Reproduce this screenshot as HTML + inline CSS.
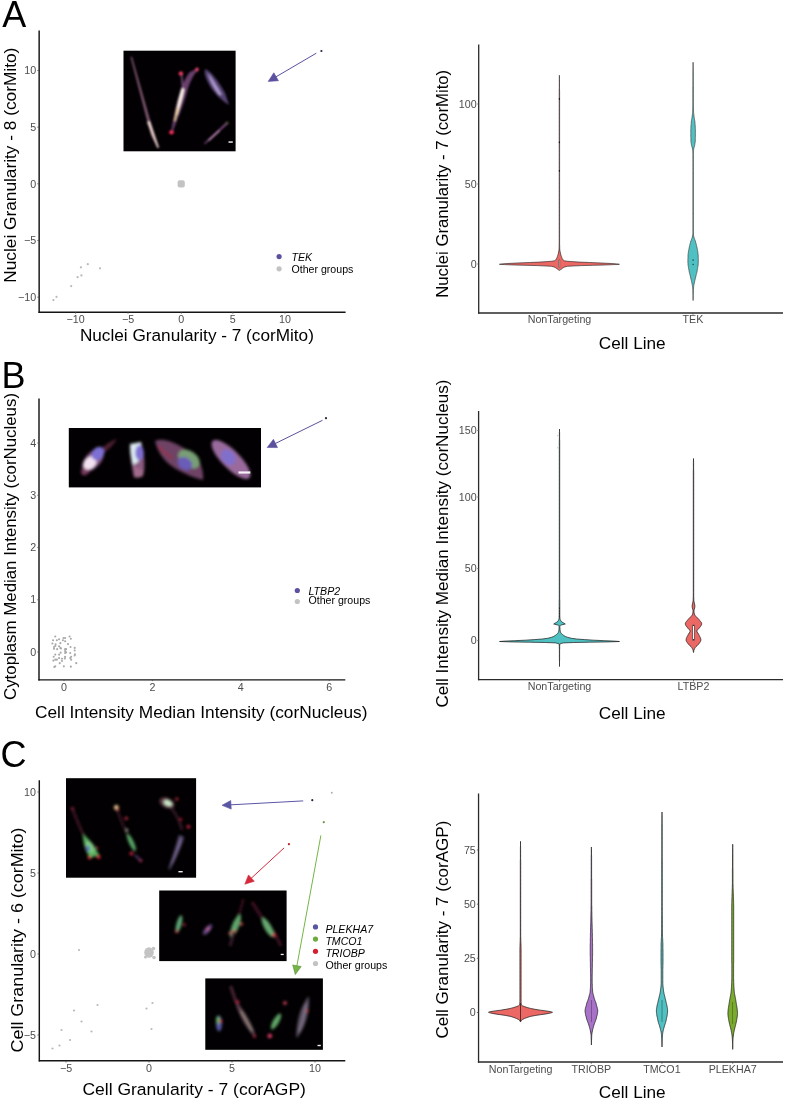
<!DOCTYPE html>
<html><head><meta charset="utf-8"><style>
html,body{margin:0;padding:0;background:#fff;}
body{width:786px;height:1101px;overflow:hidden;}
svg{display:block;font-family:"Liberation Sans", sans-serif;will-change:transform;}
</style></head><body>
<svg width="786" height="1101" viewBox="0 0 786 1101">
<defs>
<filter id="b1" x="-50%" y="-50%" width="200%" height="200%"><feGaussianBlur stdDeviation="0.9"/></filter>
<filter id="b2" x="-50%" y="-50%" width="200%" height="200%"><feGaussianBlur stdDeviation="2"/></filter>
<filter id="b15" x="-50%" y="-50%" width="200%" height="200%"><feGaussianBlur stdDeviation="1.4"/></filter>
<filter id="b05" x="-50%" y="-50%" width="200%" height="200%"><feGaussianBlur stdDeviation="0.6"/></filter>
</defs>
<rect width="786" height="1101" fill="#fff"/>
<text x="2.2" y="27" font-size="36" text-anchor="start" fill="#000" style="">A</text>
<line x1="39.15" y1="30.5" x2="39.15" y2="313.0" stroke="#151515" stroke-width="1.45"/>
<line x1="38.45" y1="312.3" x2="345.6" y2="312.3" stroke="#151515" stroke-width="1.45"/>
<text x="36.2" y="74.20000000000002" font-size="10.7" text-anchor="end" fill="#4d4d4d" style="">10</text>
<line x1="37.3" y1="70.50000000000001" x2="39" y2="70.50000000000001" stroke="#4d4d4d" stroke-width="0.8"/>
<text x="36.2" y="130.85" font-size="10.7" text-anchor="end" fill="#4d4d4d" style="">5</text>
<line x1="37.3" y1="127.15" x2="39" y2="127.15" stroke="#4d4d4d" stroke-width="0.8"/>
<text x="36.2" y="187.5" font-size="10.7" text-anchor="end" fill="#4d4d4d" style="">0</text>
<line x1="37.3" y1="183.8" x2="39" y2="183.8" stroke="#4d4d4d" stroke-width="0.8"/>
<text x="36.2" y="244.15" font-size="10.7" text-anchor="end" fill="#4d4d4d" style="">−5</text>
<line x1="37.3" y1="240.45000000000002" x2="39" y2="240.45000000000002" stroke="#4d4d4d" stroke-width="0.8"/>
<text x="36.2" y="300.8" font-size="10.7" text-anchor="end" fill="#4d4d4d" style="">−10</text>
<line x1="37.3" y1="297.1" x2="39" y2="297.1" stroke="#4d4d4d" stroke-width="0.8"/>
<text x="75.6" y="322.8" font-size="10.7" text-anchor="middle" fill="#4d4d4d" style="">−10</text>
<line x1="75.6" y1="312" x2="75.6" y2="313.7" stroke="#4d4d4d" stroke-width="0.8"/>
<text x="128.0" y="322.8" font-size="10.7" text-anchor="middle" fill="#4d4d4d" style="">−5</text>
<line x1="128.0" y1="312" x2="128.0" y2="313.7" stroke="#4d4d4d" stroke-width="0.8"/>
<text x="181.3" y="322.8" font-size="10.7" text-anchor="middle" fill="#4d4d4d" style="">0</text>
<line x1="181.3" y1="312" x2="181.3" y2="313.7" stroke="#4d4d4d" stroke-width="0.8"/>
<text x="232.8" y="322.8" font-size="10.7" text-anchor="middle" fill="#4d4d4d" style="">5</text>
<line x1="232.8" y1="312" x2="232.8" y2="313.7" stroke="#4d4d4d" stroke-width="0.8"/>
<text x="285.0" y="322.8" font-size="10.7" text-anchor="middle" fill="#4d4d4d" style="">10</text>
<line x1="285.0" y1="312" x2="285.0" y2="313.7" stroke="#4d4d4d" stroke-width="0.8"/>
<text x="196.9" y="340.5" font-size="17.2" text-anchor="middle" fill="#000" style="" textLength="234" lengthAdjust="spacingAndGlyphs">Nuclei Granularity - 7 (corMito)</text>
<text x="16.5" y="165.2" font-size="17.2" text-anchor="middle" fill="#000" style="" transform="rotate(-90 16.5 165.2)" textLength="235" lengthAdjust="spacingAndGlyphs">Nuclei Granularity - 8 (corMito)</text>
<circle cx="53.4" cy="300.1" r="1.1" fill="#b8b8b8"/>
<circle cx="56.5" cy="296.8" r="1.1" fill="#b8b8b8"/>
<circle cx="71.2" cy="286.1" r="1.1" fill="#b8b8b8"/>
<circle cx="77.6" cy="277.2" r="1.1" fill="#b8b8b8"/>
<circle cx="81.4" cy="275.4" r="1.1" fill="#b8b8b8"/>
<circle cx="80.9" cy="267.3" r="1.1" fill="#b8b8b8"/>
<circle cx="87.8" cy="264.2" r="1.1" fill="#b8b8b8"/>
<circle cx="100" cy="268.3" r="1.1" fill="#b8b8b8"/>
<rect x="177.6" y="180.2" width="7.2" height="7.2" rx="2" fill="#c3c3c3"/>
<rect x="123.5" y="50.7" width="112.1" height="100.6" fill="#020002"/>
<g filter="url(#b1)">
<path d="M130.5,56.5 L132,57 L155,138 L158.5,147.8 L157.5,148 L151,135 Z" fill="#9a6a88" opacity="0.9"/>
<path d="M147,122 L150,121 L159,147.5 L157.5,148 Z" fill="#f4dcd8"/>
<path d="M171,133 C173,118 176,104 180,92 C183,84 186,76 190,72 L197.5,68.5 L198,70 C193,75 189,84 187,92 C184,104 178,118 172,133 Z" fill="#7a4a7e" opacity="0.85"/>
<path d="M180.5,73 L182,73 C183,80 184,86 184,90 L182,90 C181.5,84 181,79 180.5,73 Z" fill="#8a5a90" opacity="0.8"/>
<path d="M175.5,114 C177,105 179,97 181.5,88 L184.5,89 C183,97 180,106 177.5,115 Z" fill="#fff4ec"/>
<path d="M174,121 C175,116 176,111 177,107 L178.5,108 C177.5,113 176.5,117 175.5,121 Z" fill="#f4d890"/>
<ellipse cx="180.9" cy="73.5" rx="2.2" ry="1.9" fill="#ff3f6a"/>
<ellipse cx="197" cy="69.6" rx="1.6" ry="2.0" fill="#ff4a78"/>
<ellipse cx="171.5" cy="132.3" rx="2.4" ry="2.1" fill="#ff3060"/>
<path d="M205,69 C211,71 219,82 225,93 L229,105 C222,101 214,93 210,86 C206,79 204,74 205,69 Z" fill="#5e4a80" opacity="0.9"/>
<path d="M208,73 C212,78 217,86 222,95 L219,95 C214,88 210,82 208,73 Z" fill="#b8a4d8" opacity="0.9"/>
<path d="M204,143.5 L227,122 L228,123.5 L205,144 Z" fill="#9a5a9c"/>
<path d="M208,140 L219,130 L220,131 L209,141 Z" fill="#d8a0d0"/>
<circle cx="227" cy="123" r="1.6" fill="#5a5a44"/>
</g>
<rect x="228.5" y="141.3" width="4.3" height="1.5" fill="#e8e8e8"/>
<line x1="316.3" y1="53.2" x2="275.27390209413784" y2="77.25272268077573" stroke="#5a519f" stroke-width="1.0"/>
<polygon points="268.20,81.40 273.81,72.78 278.46,80.72" fill="#5a519f" stroke="#5a519f" stroke-width="0.6" stroke-linejoin="round"/>
<circle cx="321.4" cy="51" r="1.1" fill="#2a2440"/>
<circle cx="279.1" cy="256.6" r="2.6" fill="#5a519f"/>
<circle cx="279.1" cy="268.8" r="2.6" fill="#c3c3c3"/>
<text x="291.5" y="261.1" font-size="10.6" text-anchor="start" fill="#000" style="font-style:italic;">TEK</text>
<text x="291.5" y="273.3" font-size="10.6" text-anchor="start" fill="#000" style="">Other groups</text>
<line x1="478.7" y1="44.5" x2="478.7" y2="313.65" stroke="#2a2a2a" stroke-width="1.3"/>
<line x1="478.05" y1="313.0" x2="783.0" y2="313.0" stroke="#2a2a2a" stroke-width="1.3"/>
<text x="476.6" y="267.7" font-size="10.7" text-anchor="end" fill="#4d4d4d" style="">0</text>
<line x1="477.3" y1="264.0" x2="479" y2="264.0" stroke="#4d4d4d" stroke-width="0.8"/>
<text x="476.6" y="187.7" font-size="10.7" text-anchor="end" fill="#4d4d4d" style="">50</text>
<line x1="477.3" y1="184.0" x2="479" y2="184.0" stroke="#4d4d4d" stroke-width="0.8"/>
<text x="476.6" y="107.7" font-size="10.7" text-anchor="end" fill="#4d4d4d" style="">100</text>
<line x1="477.3" y1="104.0" x2="479" y2="104.0" stroke="#4d4d4d" stroke-width="0.8"/>
<text x="559.5" y="323.2" font-size="10.7" text-anchor="middle" fill="#4d4d4d" style="">NonTargeting</text>
<line x1="559.5" y1="313" x2="559.5" y2="314.7" stroke="#4d4d4d" stroke-width="0.8"/>
<text x="693" y="323.2" font-size="10.7" text-anchor="middle" fill="#4d4d4d" style="">TEK</text>
<line x1="693" y1="313" x2="693" y2="314.7" stroke="#4d4d4d" stroke-width="0.8"/>
<text x="632.2" y="348.5" font-size="17.2" text-anchor="middle" fill="#000" style="">Cell Line</text>
<text x="448.3" y="183.8" font-size="17.2" text-anchor="middle" fill="#000" style="" transform="rotate(-90 448.3 183.8)" textLength="228" lengthAdjust="spacingAndGlyphs">Nuclei Granularity - 7 (corMito)</text>
<path d="M559.4,75.3 559.4,76.1 559.4,76.9 559.4,77.8 559.4,78.6 559.4,79.4 559.5,80.2 559.5,81.0 559.5,81.8 559.5,82.6 559.5,83.5 559.5,84.3 559.5,85.1 559.5,85.9 559.5,86.7 559.5,87.5 559.5,88.4 559.5,89.2 559.5,90.0 559.6,90.8 559.6,91.6 559.6,92.4 559.6,93.2 559.6,94.0 559.6,94.8 559.6,95.6 559.6,96.4 559.6,97.2 559.6,98.0 559.6,98.8 559.6,99.6 559.6,100.4 559.6,101.2 559.6,102.0 559.6,102.8 559.6,103.6 559.6,104.4 559.6,105.2 559.6,106.0 559.6,106.8 559.6,107.6 559.6,108.4 559.6,109.3 559.6,110.1 559.6,110.9 559.6,111.7 559.6,112.5 559.6,113.3 559.6,114.1 559.6,114.9 559.6,115.7 559.6,116.5 559.6,117.3 559.6,118.1 559.6,118.9 559.6,119.7 559.6,120.5 559.6,121.3 559.6,122.1 559.6,122.9 559.6,123.7 559.6,124.5 559.6,125.3 559.6,126.1 559.6,126.9 559.6,127.7 559.6,128.5 559.6,129.3 559.6,130.1 559.6,130.9 559.6,131.7 559.6,132.5 559.6,133.3 559.6,134.1 559.6,134.9 559.6,135.7 559.6,136.5 559.6,137.3 559.6,138.1 559.6,138.9 559.6,139.7 559.6,140.5 559.6,141.3 559.6,142.1 559.6,142.9 559.6,143.7 559.6,144.5 559.6,145.3 559.6,146.1 559.6,147.0 559.6,147.8 559.6,148.6 559.6,149.4 559.6,150.2 559.6,151.0 559.6,151.8 559.6,152.6 559.6,153.4 559.6,154.2 559.6,155.0 559.6,155.8 559.6,156.6 559.6,157.4 559.6,158.2 559.6,159.0 559.6,159.8 559.6,160.6 559.6,161.4 559.6,162.2 559.6,163.0 559.6,163.8 559.6,164.6 559.6,165.4 559.6,166.2 559.6,167.0 559.6,167.8 559.6,168.6 559.6,169.4 559.6,170.2 559.6,171.0 559.6,171.8 559.6,172.6 559.6,173.4 559.6,174.2 559.6,175.0 559.6,175.8 559.6,176.6 559.6,177.4 559.6,178.2 559.6,179.0 559.6,179.8 559.6,180.6 559.6,181.4 559.6,182.2 559.6,183.0 559.6,183.9 559.6,184.7 559.6,185.5 559.6,186.3 559.6,187.1 559.6,187.9 559.6,188.7 559.6,189.5 559.6,190.3 559.6,191.1 559.6,191.9 559.6,192.7 559.6,193.5 559.6,194.3 559.6,195.1 559.6,195.9 559.6,196.7 559.6,197.5 559.6,198.3 559.6,199.1 559.6,199.9 559.6,200.7 559.6,201.5 559.6,202.3 559.6,203.1 559.6,203.9 559.6,204.7 559.6,205.5 559.6,206.3 559.6,207.1 559.6,207.9 559.6,208.7 559.6,209.5 559.6,210.3 559.6,211.1 559.6,211.9 559.6,212.7 559.6,213.5 559.6,214.3 559.6,215.1 559.6,215.9 559.6,216.7 559.6,217.5 559.6,218.3 559.6,219.1 559.6,219.9 559.6,220.7 559.6,221.6 559.6,222.4 559.6,223.2 559.6,224.0 559.6,224.8 559.6,225.6 559.6,226.4 559.6,227.2 559.6,228.0 559.6,228.8 559.6,229.6 559.6,230.4 559.6,231.2 559.6,232.0 559.6,232.8 559.6,233.6 559.6,234.4 559.6,235.2 559.6,236.0 559.6,236.8 559.6,237.6 559.6,238.4 559.6,239.2 559.6,240.0 559.6,240.8 559.6,241.6 559.6,242.5 559.6,243.3 559.6,244.1 559.6,244.9 559.7,245.7 559.7,246.5 559.7,247.4 559.7,248.2 559.8,249.0 559.8,250.0 560.0,251.0 560.2,252.0 560.4,253.0 560.6,254.0 560.9,255.0 561.2,255.8 561.5,256.7 561.8,257.5 562.2,258.5 562.8,259.5 563.3,260.1 564.4,260.8 566.9,261.2 571.4,261.6 579.4,262.1 589.4,262.5 601.3,263.0 611.4,263.5 616.8,263.9 619.4,264.3 614.3,264.6 604.4,265.0 592.8,265.3 581.4,265.6 572.6,266.0 567.4,266.3 564.9,266.9 563.6,267.5 562.5,268.2 561.6,269.0 560.6,269.6 559.7,270.3 559.5,270.5 559.4,270.6 559.3,270.5 559.1,270.3 558.2,269.6 557.2,269.0 556.3,268.2 555.2,267.5 553.9,266.9 551.4,266.3 546.2,266.0 537.4,265.6 526.0,265.3 514.4,265.0 504.5,264.6 499.4,264.3 502.0,263.9 507.4,263.5 517.5,263.0 529.4,262.5 539.4,262.1 547.4,261.6 551.9,261.2 554.4,260.8 555.5,260.1 556.0,259.5 556.6,258.5 557.0,257.5 557.3,256.7 557.6,255.8 557.9,255.0 558.2,254.0 558.4,253.0 558.6,252.0 558.8,251.0 559.0,250.0 559.0,249.0 559.1,248.2 559.1,247.4 559.1,246.5 559.1,245.7 559.2,244.9 559.2,244.1 559.2,243.3 559.2,242.5 559.2,241.6 559.2,240.8 559.2,240.0 559.2,239.2 559.2,238.4 559.2,237.6 559.2,236.8 559.2,236.0 559.2,235.2 559.2,234.4 559.2,233.6 559.2,232.8 559.2,232.0 559.2,231.2 559.2,230.4 559.2,229.6 559.2,228.8 559.2,228.0 559.2,227.2 559.2,226.4 559.2,225.6 559.2,224.8 559.2,224.0 559.2,223.2 559.2,222.4 559.2,221.6 559.2,220.7 559.2,219.9 559.2,219.1 559.2,218.3 559.2,217.5 559.2,216.7 559.2,215.9 559.2,215.1 559.2,214.3 559.2,213.5 559.2,212.7 559.2,211.9 559.2,211.1 559.2,210.3 559.2,209.5 559.2,208.7 559.2,207.9 559.2,207.1 559.2,206.3 559.2,205.5 559.2,204.7 559.2,203.9 559.2,203.1 559.2,202.3 559.2,201.5 559.2,200.7 559.2,199.9 559.2,199.1 559.2,198.3 559.2,197.5 559.2,196.7 559.2,195.9 559.2,195.1 559.2,194.3 559.2,193.5 559.2,192.7 559.2,191.9 559.2,191.1 559.2,190.3 559.2,189.5 559.2,188.7 559.2,187.9 559.2,187.1 559.2,186.3 559.2,185.5 559.2,184.7 559.2,183.9 559.2,183.0 559.2,182.2 559.2,181.4 559.2,180.6 559.2,179.8 559.2,179.0 559.2,178.2 559.2,177.4 559.2,176.6 559.2,175.8 559.2,175.0 559.2,174.2 559.2,173.4 559.2,172.6 559.2,171.8 559.2,171.0 559.2,170.2 559.2,169.4 559.2,168.6 559.2,167.8 559.2,167.0 559.2,166.2 559.2,165.4 559.2,164.6 559.2,163.8 559.2,163.0 559.2,162.2 559.2,161.4 559.2,160.6 559.2,159.8 559.2,159.0 559.2,158.2 559.2,157.4 559.2,156.6 559.2,155.8 559.2,155.0 559.2,154.2 559.2,153.4 559.2,152.6 559.2,151.8 559.2,151.0 559.2,150.2 559.2,149.4 559.2,148.6 559.2,147.8 559.2,147.0 559.2,146.1 559.2,145.3 559.2,144.5 559.2,143.7 559.2,142.9 559.2,142.1 559.2,141.3 559.2,140.5 559.2,139.7 559.2,138.9 559.2,138.1 559.2,137.3 559.2,136.5 559.2,135.7 559.2,134.9 559.2,134.1 559.2,133.3 559.2,132.5 559.2,131.7 559.2,130.9 559.2,130.1 559.2,129.3 559.2,128.5 559.2,127.7 559.2,126.9 559.2,126.1 559.2,125.3 559.2,124.5 559.2,123.7 559.2,122.9 559.2,122.1 559.2,121.3 559.2,120.5 559.2,119.7 559.2,118.9 559.2,118.1 559.2,117.3 559.2,116.5 559.2,115.7 559.2,114.9 559.2,114.1 559.2,113.3 559.2,112.5 559.2,111.7 559.2,110.9 559.2,110.1 559.2,109.3 559.2,108.4 559.2,107.6 559.2,106.8 559.2,106.0 559.2,105.2 559.2,104.4 559.2,103.6 559.2,102.8 559.2,102.0 559.2,101.2 559.2,100.4 559.2,99.6 559.2,98.8 559.2,98.0 559.2,97.2 559.2,96.4 559.2,95.6 559.2,94.8 559.2,94.0 559.2,93.2 559.2,92.4 559.2,91.6 559.2,90.8 559.2,90.0 559.3,89.2 559.3,88.4 559.3,87.5 559.3,86.7 559.3,85.9 559.3,85.1 559.3,84.3 559.3,83.5 559.3,82.6 559.3,81.8 559.3,81.0 559.3,80.2 559.4,79.4 559.4,78.6 559.4,77.8 559.4,76.9 559.4,76.1 Z" fill="#ec6865" stroke="#252525" stroke-width="0.65" stroke-linejoin="round"/>
<rect x="558.95" y="259.9" width="0.9" height="7.6" fill="#f4f4f4" stroke="#333" stroke-width="0.45"/>
<rect x="558.85" y="98.2" width="1.1" height="1.6" fill="#111"/>
<rect x="558.85" y="141.5" width="1.1" height="1.6" fill="#111"/>
<rect x="558.85" y="170" width="1.1" height="1.6" fill="#111"/>
<path d="M693.1,62.3 693.1,63.1 693.1,64.0 693.1,64.8 693.2,65.7 693.2,66.5 693.2,67.4 693.2,68.2 693.2,69.1 693.2,69.9 693.3,70.8 693.3,71.6 693.3,72.5 693.3,73.3 693.3,74.2 693.3,75.0 693.3,75.8 693.3,76.6 693.3,77.4 693.3,78.2 693.3,79.0 693.3,79.8 693.3,80.6 693.3,81.5 693.3,82.3 693.3,83.1 693.3,83.9 693.3,84.7 693.3,85.5 693.3,86.3 693.4,87.1 693.4,87.9 693.4,88.7 693.4,89.5 693.4,90.3 693.4,91.1 693.4,91.9 693.4,92.7 693.4,93.5 693.4,94.4 693.4,95.2 693.4,96.0 693.4,96.8 693.4,97.6 693.4,98.4 693.4,99.2 693.4,100.0 693.4,100.8 693.4,101.7 693.4,102.5 693.4,103.3 693.4,104.2 693.4,105.0 693.4,105.8 693.5,106.7 693.5,107.5 693.5,108.3 693.5,109.2 693.5,110.0 693.5,110.9 693.6,111.7 693.6,112.6 693.7,113.4 693.8,114.3 693.9,115.1 694.0,116.0 694.1,116.9 694.2,117.7 694.4,118.6 694.5,119.4 694.7,120.3 694.8,121.1 694.9,122.0 695.0,122.8 695.0,123.6 695.1,124.5 695.2,125.3 695.2,126.1 695.3,126.9 695.3,127.7 695.3,128.5 695.4,129.4 695.4,130.2 695.4,131.0 695.4,131.8 695.4,132.6 695.4,133.5 695.4,134.3 695.4,135.1 695.4,135.9 695.4,136.7 695.3,137.5 695.3,138.4 695.3,139.2 695.3,140.0 695.3,140.9 695.2,141.8 695.1,142.8 694.9,143.7 694.8,144.6 694.6,145.5 694.4,146.4 694.1,147.2 693.9,148.1 693.7,149.0 693.6,149.8 693.5,150.6 693.4,151.4 693.4,152.2 693.4,153.0 693.4,153.8 693.4,154.6 693.4,155.4 693.4,156.2 693.4,157.0 693.4,157.8 693.4,158.6 693.4,159.4 693.4,160.2 693.4,161.0 693.4,161.8 693.4,162.6 693.4,163.4 693.4,164.2 693.4,165.0 693.4,165.8 693.4,166.6 693.4,167.4 693.4,168.2 693.4,169.0 693.4,169.8 693.4,170.6 693.4,171.4 693.4,172.2 693.4,173.0 693.4,173.9 693.4,174.7 693.4,175.5 693.4,176.3 693.4,177.1 693.4,177.9 693.4,178.7 693.4,179.5 693.4,180.3 693.4,181.1 693.4,181.9 693.4,182.7 693.4,183.5 693.4,184.3 693.4,185.1 693.4,185.9 693.4,186.7 693.4,187.5 693.4,188.3 693.4,189.1 693.4,189.9 693.4,190.7 693.4,191.5 693.4,192.3 693.4,193.1 693.4,193.9 693.4,194.7 693.4,195.5 693.4,196.3 693.4,197.1 693.4,197.9 693.4,198.7 693.4,199.5 693.4,200.3 693.4,201.1 693.4,201.9 693.4,202.7 693.4,203.5 693.4,204.3 693.4,205.1 693.4,205.9 693.4,206.7 693.4,207.5 693.4,208.3 693.4,209.1 693.4,209.9 693.4,210.7 693.4,211.5 693.4,212.3 693.4,213.1 693.4,214.0 693.4,214.8 693.4,215.6 693.4,216.4 693.4,217.2 693.4,218.0 693.4,218.8 693.4,219.6 693.4,220.4 693.4,221.2 693.4,222.0 693.4,222.8 693.4,223.6 693.4,224.4 693.4,225.2 693.4,226.0 693.4,226.8 693.4,227.6 693.4,228.4 693.4,229.2 693.4,230.0 693.4,230.8 693.4,231.6 693.4,232.4 693.4,233.2 693.4,234.0 693.4,235.0 693.7,236.0 693.9,237.0 694.1,237.8 694.4,238.6 694.7,239.4 695.0,240.2 695.3,241.0 695.6,241.9 695.8,242.8 696.1,243.6 696.3,244.5 696.5,245.4 696.7,246.2 696.9,247.1 697.1,248.0 697.2,248.8 697.4,249.6 697.5,250.4 697.7,251.2 697.8,252.0 697.9,252.8 698.0,253.6 698.1,254.4 698.2,255.2 698.2,256.0 698.2,256.9 698.2,257.7 698.3,258.6 698.3,259.4 698.3,260.3 698.3,261.1 698.3,262.0 698.3,262.8 698.2,263.6 698.2,264.4 698.1,265.2 698.0,266.0 697.8,266.8 697.7,267.6 697.6,268.4 697.4,269.2 697.3,270.0 697.1,270.9 697.0,271.8 696.8,272.6 696.6,273.5 696.3,274.4 696.1,275.2 695.9,276.1 695.7,277.0 695.5,277.9 695.3,278.7 695.1,279.6 694.9,280.4 694.7,281.3 694.5,282.1 694.3,283.0 694.1,283.8 694.0,284.7 693.8,285.5 693.7,286.3 693.6,287.2 693.5,288.0 693.5,288.8 693.4,289.6 693.4,290.4 693.4,291.2 693.4,292.0 693.3,292.9 693.3,293.7 693.3,294.6 693.2,295.4 693.2,296.2 693.2,297.1 693.2,297.9 693.1,298.8 693.1,299.6 693.1,300.5 693.1,299.6 693.1,298.8 693.0,297.9 693.0,297.1 693.0,296.2 693.0,295.4 692.9,294.6 692.9,293.7 692.9,292.9 692.9,292.0 692.8,291.2 692.8,290.4 692.8,289.6 692.7,288.8 692.7,288.0 692.6,287.2 692.5,286.3 692.4,285.5 692.2,284.7 692.1,283.8 691.9,283.0 691.7,282.1 691.5,281.3 691.3,280.4 691.1,279.6 690.9,278.7 690.7,277.9 690.5,277.0 690.3,276.1 690.1,275.2 689.9,274.4 689.6,273.5 689.4,272.6 689.2,271.8 689.1,270.9 688.9,270.0 688.8,269.2 688.6,268.4 688.5,267.6 688.4,266.8 688.2,266.0 688.1,265.2 688.0,264.4 688.0,263.6 687.9,262.8 687.9,262.0 687.9,261.1 687.9,260.3 687.9,259.4 687.9,258.6 688.0,257.7 688.0,256.9 688.0,256.0 688.0,255.2 688.1,254.4 688.2,253.6 688.3,252.8 688.4,252.0 688.5,251.2 688.7,250.4 688.8,249.6 689.0,248.8 689.1,248.0 689.3,247.1 689.5,246.2 689.7,245.4 689.9,244.5 690.1,243.6 690.4,242.8 690.6,241.9 690.9,241.0 691.2,240.2 691.5,239.4 691.8,238.6 692.1,237.8 692.3,237.0 692.5,236.0 692.8,235.0 692.9,234.0 692.9,233.2 692.9,232.4 692.9,231.6 692.9,230.8 692.9,230.0 692.9,229.2 692.9,228.4 692.9,227.6 692.9,226.8 692.9,226.0 692.9,225.2 692.9,224.4 692.9,223.6 692.9,222.8 692.9,222.0 692.9,221.2 692.9,220.4 692.9,219.6 692.9,218.8 692.9,218.0 692.9,217.2 692.9,216.4 692.9,215.6 692.9,214.8 692.9,214.0 692.9,213.1 692.9,212.3 692.9,211.5 692.9,210.7 692.9,209.9 692.9,209.1 692.9,208.3 692.9,207.5 692.9,206.7 692.9,205.9 692.9,205.1 692.9,204.3 692.9,203.5 692.9,202.7 692.9,201.9 692.9,201.1 692.9,200.3 692.9,199.5 692.9,198.7 692.9,197.9 692.9,197.1 692.9,196.3 692.9,195.5 692.9,194.7 692.9,193.9 692.9,193.1 692.9,192.3 692.9,191.5 692.9,190.7 692.9,189.9 692.9,189.1 692.9,188.3 692.9,187.5 692.9,186.7 692.9,185.9 692.9,185.1 692.9,184.3 692.9,183.5 692.9,182.7 692.9,181.9 692.9,181.1 692.9,180.3 692.9,179.5 692.9,178.7 692.9,177.9 692.9,177.1 692.9,176.3 692.9,175.5 692.9,174.7 692.9,173.9 692.9,173.0 692.9,172.2 692.9,171.4 692.9,170.6 692.9,169.8 692.9,169.0 692.9,168.2 692.9,167.4 692.9,166.6 692.9,165.8 692.9,165.0 692.9,164.2 692.9,163.4 692.9,162.6 692.9,161.8 692.9,161.0 692.9,160.2 692.9,159.4 692.9,158.6 692.9,157.8 692.9,157.0 692.9,156.2 692.9,155.4 692.9,154.6 692.9,153.8 692.9,153.0 692.8,152.2 692.8,151.4 692.7,150.6 692.6,149.8 692.5,149.0 692.3,148.1 692.1,147.2 691.8,146.4 691.6,145.5 691.4,144.6 691.3,143.7 691.1,142.8 691.0,141.8 690.9,140.9 690.9,140.0 690.9,139.2 690.9,138.4 690.9,137.5 690.8,136.7 690.8,135.9 690.8,135.1 690.8,134.3 690.8,133.5 690.8,132.6 690.8,131.8 690.8,131.0 690.8,130.2 690.8,129.4 690.9,128.5 690.9,127.7 690.9,126.9 691.0,126.1 691.0,125.3 691.1,124.5 691.2,123.6 691.2,122.8 691.3,122.0 691.4,121.1 691.5,120.3 691.7,119.4 691.8,118.6 692.0,117.7 692.1,116.9 692.2,116.0 692.3,115.1 692.4,114.3 692.5,113.4 692.6,112.6 692.6,111.7 692.7,110.9 692.7,110.0 692.7,109.2 692.7,108.3 692.7,107.5 692.7,106.7 692.8,105.8 692.8,105.0 692.8,104.2 692.8,103.3 692.8,102.5 692.8,101.7 692.8,100.8 692.8,100.0 692.8,99.2 692.8,98.4 692.8,97.6 692.8,96.8 692.8,96.0 692.8,95.2 692.8,94.4 692.8,93.5 692.8,92.7 692.8,91.9 692.8,91.1 692.8,90.3 692.8,89.5 692.8,88.7 692.8,87.9 692.8,87.1 692.9,86.3 692.9,85.5 692.9,84.7 692.9,83.9 692.9,83.1 692.9,82.3 692.9,81.5 692.9,80.6 692.9,79.8 692.9,79.0 692.9,78.2 692.9,77.4 692.9,76.6 692.9,75.8 692.9,75.0 692.9,74.2 692.9,73.3 692.9,72.5 692.9,71.6 692.9,70.8 693.0,69.9 693.0,69.1 693.0,68.2 693.0,67.4 693.0,66.5 693.0,65.7 693.1,64.8 693.1,64.0 693.1,63.1 Z" fill="#4fc1c3" stroke="#444" stroke-width="0.72" stroke-linejoin="round"/>
<rect x="692.6" y="259.4" width="1.0" height="1.4" fill="#222"/><rect x="692.6" y="263.8" width="1.0" height="1.3" fill="#222"/>
<text x="1.5" y="387.7" font-size="36" text-anchor="start" fill="#000" style="">B</text>
<line x1="39.0" y1="398.5" x2="39.0" y2="680.55" stroke="#151515" stroke-width="1.45"/>
<line x1="38.3" y1="679.85" x2="345.3" y2="679.85" stroke="#151515" stroke-width="1.45"/>
<text x="36.2" y="655.7" font-size="10.7" text-anchor="end" fill="#4d4d4d" style="">0</text>
<line x1="37.3" y1="652.0" x2="39" y2="652.0" stroke="#4d4d4d" stroke-width="0.8"/>
<text x="36.2" y="603.45" font-size="10.7" text-anchor="end" fill="#4d4d4d" style="">1</text>
<line x1="37.3" y1="599.75" x2="39" y2="599.75" stroke="#4d4d4d" stroke-width="0.8"/>
<text x="36.2" y="551.2" font-size="10.7" text-anchor="end" fill="#4d4d4d" style="">2</text>
<line x1="37.3" y1="547.5" x2="39" y2="547.5" stroke="#4d4d4d" stroke-width="0.8"/>
<text x="36.2" y="498.95" font-size="10.7" text-anchor="end" fill="#4d4d4d" style="">3</text>
<line x1="37.3" y1="495.25" x2="39" y2="495.25" stroke="#4d4d4d" stroke-width="0.8"/>
<text x="36.2" y="446.7" font-size="10.7" text-anchor="end" fill="#4d4d4d" style="">4</text>
<line x1="37.3" y1="443.0" x2="39" y2="443.0" stroke="#4d4d4d" stroke-width="0.8"/>
<text x="64.0" y="690.5" font-size="10.7" text-anchor="middle" fill="#4d4d4d" style="">0</text>
<line x1="64.0" y1="679.4" x2="64.0" y2="681.1" stroke="#4d4d4d" stroke-width="0.8"/>
<text x="152.4" y="690.5" font-size="10.7" text-anchor="middle" fill="#4d4d4d" style="">2</text>
<line x1="152.4" y1="679.4" x2="152.4" y2="681.1" stroke="#4d4d4d" stroke-width="0.8"/>
<text x="240.8" y="690.5" font-size="10.7" text-anchor="middle" fill="#4d4d4d" style="">4</text>
<line x1="240.8" y1="679.4" x2="240.8" y2="681.1" stroke="#4d4d4d" stroke-width="0.8"/>
<text x="329.20000000000005" y="690.5" font-size="10.7" text-anchor="middle" fill="#4d4d4d" style="">6</text>
<line x1="329.20000000000005" y1="679.4" x2="329.20000000000005" y2="681.1" stroke="#4d4d4d" stroke-width="0.8"/>
<text x="201.2" y="718" font-size="17.2" text-anchor="middle" fill="#000" style="" textLength="332.5" lengthAdjust="spacingAndGlyphs">Cell Intensity Median Intensity (corNucleus)</text>
<text x="15.8" y="546.5" font-size="17.2" text-anchor="middle" fill="#000" style="" transform="rotate(-90 15.8 546.5)" textLength="307" lengthAdjust="spacingAndGlyphs">Cytoplasm Median Intensity (corNucleus)</text>
<circle cx="55.26717557251908" cy="636.4503816793894" r="1.05" fill="#a9a9a9"/>
<circle cx="53.040712468193384" cy="640.2671755725191" r="1.05" fill="#a9a9a9"/>
<circle cx="56.85750636132315" cy="640.2671755725191" r="1.05" fill="#a9a9a9"/>
<circle cx="59.08396946564885" cy="639.3129770992366" r="1.05" fill="#a9a9a9"/>
<circle cx="63.536895674300254" cy="638.0407124681934" r="1.05" fill="#a9a9a9"/>
<circle cx="65.12722646310432" cy="638.0407124681934" r="1.05" fill="#a9a9a9"/>
<circle cx="62.900763358778626" cy="640.2671755725191" r="1.05" fill="#a9a9a9"/>
<circle cx="65.12722646310432" cy="641.2213740458016" r="1.05" fill="#a9a9a9"/>
<circle cx="69.58015267175573" cy="636.4503816793894" r="1.05" fill="#a9a9a9"/>
<circle cx="70.85241730279898" cy="638.6768447837151" r="1.05" fill="#a9a9a9"/>
<circle cx="52.404580152671755" cy="643.4478371501273" r="1.05" fill="#a9a9a9"/>
<circle cx="55.5852417302799" cy="644.4020356234097" r="1.05" fill="#a9a9a9"/>
<circle cx="60.35623409669211" cy="643.1297709923664" r="1.05" fill="#a9a9a9"/>
<circle cx="67.98982188295165" cy="644.0839694656488" r="1.05" fill="#a9a9a9"/>
<circle cx="53.99491094147582" cy="646.9465648854962" r="1.05" fill="#a9a9a9"/>
<circle cx="55.26717557251908" cy="645.9923664122138" r="1.05" fill="#a9a9a9"/>
<circle cx="59.08396946564885" cy="646.3104325699745" r="1.05" fill="#a9a9a9"/>
<circle cx="60.35623409669211" cy="647.9007633587786" r="1.05" fill="#a9a9a9"/>
<circle cx="53.99491094147582" cy="648.8549618320611" r="1.05" fill="#a9a9a9"/>
<circle cx="57.17557251908397" cy="649.1730279898219" r="1.05" fill="#a9a9a9"/>
<circle cx="60.99236641221374" cy="648.5368956743002" r="1.05" fill="#a9a9a9"/>
<circle cx="70.53435114503816" cy="646.9465648854962" r="1.05" fill="#a9a9a9"/>
<circle cx="74.66921119592875" cy="647.9007633587786" r="1.05" fill="#a9a9a9"/>
<circle cx="74.66921119592875" cy="650.4452926208652" r="1.05" fill="#a9a9a9"/>
<circle cx="65.12722646310432" cy="649.1730279898219" r="1.05" fill="#a9a9a9"/>
<circle cx="66.08142493638677" cy="649.1730279898219" r="1.05" fill="#a9a9a9"/>
<circle cx="65.12722646310432" cy="651.0814249363867" r="1.05" fill="#a9a9a9"/>
<circle cx="66.08142493638677" cy="652.35368956743" r="1.05" fill="#a9a9a9"/>
<circle cx="65.12722646310432" cy="652.9898218829517" r="1.05" fill="#a9a9a9"/>
<circle cx="60.67430025445293" cy="652.6717557251908" r="1.05" fill="#a9a9a9"/>
<circle cx="59.08396946564885" cy="654.5801526717557" r="1.05" fill="#a9a9a9"/>
<circle cx="55.26717557251908" cy="654.5801526717557" r="1.05" fill="#a9a9a9"/>
<circle cx="70.21628498727735" cy="652.9898218829517" r="1.05" fill="#a9a9a9"/>
<circle cx="74.98727735368956" cy="654.2620865139949" r="1.05" fill="#a9a9a9"/>
<circle cx="74.66921119592875" cy="655.5343511450382" r="1.05" fill="#a9a9a9"/>
<circle cx="53.67684478371501" cy="656.8066157760815" r="1.05" fill="#a9a9a9"/>
<circle cx="59.08396946564885" cy="658.0788804071246" r="1.05" fill="#a9a9a9"/>
<circle cx="55.26717557251908" cy="659.6692111959287" r="1.05" fill="#a9a9a9"/>
<circle cx="56.85750636132315" cy="659.6692111959287" r="1.05" fill="#a9a9a9"/>
<circle cx="53.3587786259542" cy="660.6234096692112" r="1.05" fill="#a9a9a9"/>
<circle cx="61.94656488549619" cy="658.7150127226463" r="1.05" fill="#a9a9a9"/>
<circle cx="61.94656488549619" cy="660.941475826972" r="1.05" fill="#a9a9a9"/>
<circle cx="65.12722646310432" cy="656.8066157760815" r="1.05" fill="#a9a9a9"/>
<circle cx="64.80916030534351" cy="658.3969465648855" r="1.05" fill="#a9a9a9"/>
<circle cx="70.21628498727735" cy="658.0788804071246" r="1.05" fill="#a9a9a9"/>
<circle cx="71.1704834605598" cy="656.8066157760815" r="1.05" fill="#a9a9a9"/>
<circle cx="71.1704834605598" cy="659.6692111959287" r="1.05" fill="#a9a9a9"/>
<circle cx="59.720101781170484" cy="663.1679389312977" r="1.05" fill="#a9a9a9"/>
<circle cx="76.25954198473282" cy="663.1679389312977" r="1.05" fill="#a9a9a9"/>
<circle cx="54.31297709923664" cy="666.9847328244275" r="1.05" fill="#a9a9a9"/>
<circle cx="55.26717557251908" cy="666.3486005089059" r="1.05" fill="#a9a9a9"/>
<circle cx="63.854961832061065" cy="666.3486005089059" r="1.05" fill="#a9a9a9"/>
<circle cx="70.85241730279898" cy="666.6666666666666" r="1.05" fill="#a9a9a9"/>
<rect x="68.8" y="428" width="192.2" height="59.4" fill="#020002"/>
<g filter="url(#b15)">
<path d="M98,452 C104,446 110,441 117,439 C114,444 108,450 102,455 Z" fill="#5a2238" opacity="0.9"/>
<ellipse cx="93" cy="460" rx="7.5" ry="14" transform="rotate(42 93 460)" fill="#8a5a88"/>
<ellipse cx="86" cy="470" rx="4" ry="6" transform="rotate(42 86 470)" fill="#7a3a60"/>
<ellipse cx="90" cy="463" rx="5.5" ry="7.5" transform="rotate(42 90 463)" fill="#f2e2f0"/>
<ellipse cx="97.8" cy="453.5" rx="5.6" ry="7.2" transform="rotate(38 97.8 453.5)" fill="#7c70d4"/>
<path d="M130,445 L141,442 C144,452 145,463 144,471 C142,476 138,478 134,477 C132,468 130,456 130,445 Z" fill="#8a5a80"/>
<path d="M130,444 L141,442 C142,450 141,456 138,462 L133,465 C131,458 130,451 130,444 Z" fill="#dcecf2"/>
<ellipse cx="139.5" cy="452.7" rx="4.2" ry="7.5" fill="#8070d4"/>
<path d="M133,465 C136,468 141,470 144,470 L143,476 C140,478 136,478 134,477 Z" fill="#a06a8c"/>
<path d="M155,441 C164,437 176,443 190,452 C199,458 204,468 203,480 C195,478 185,474 176,469 C166,463 158,454 155,441 Z" fill="#74466a" opacity="0.95"/>
<path d="M158,446 C164,452 168,456 172,458" stroke="#a03048" stroke-width="2.5" fill="none" opacity="0.8"/>
<ellipse cx="189" cy="459" rx="12" ry="8" transform="rotate(35 189 459)" fill="#7aa878" opacity="0.9"/>
<ellipse cx="184.9" cy="463.6" rx="7.8" ry="6" transform="rotate(35 184.9 463.6)" fill="#6a5cb8"/>
<ellipse cx="231" cy="459.5" rx="9" ry="26" transform="rotate(-45 231 459.5)" fill="#9a6a9c"/>
<ellipse cx="228.3" cy="457.2" rx="6.5" ry="8.5" transform="rotate(-40 228.3 457.2)" fill="#8070cc"/>
</g>
<rect x="238.5" y="471.4" width="11.8" height="2.2" fill="#f4f4f4"/>
<line x1="322.5" y1="420.3" x2="274.55809694884636" y2="443.88082754053124" stroke="#5a519f" stroke-width="1.0"/>
<polygon points="267.20,447.50 273.43,439.31 277.49,447.57" fill="#5a519f" stroke="#5a519f" stroke-width="0.6" stroke-linejoin="round"/>
<circle cx="326" cy="418.2" r="1.1" fill="#2a2440"/>
<circle cx="297.3" cy="590.5" r="2.6" fill="#5a519f"/>
<circle cx="297.3" cy="601.5" r="2.6" fill="#c3c3c3"/>
<text x="308.5" y="595.0" font-size="10.6" text-anchor="start" fill="#000" style="font-style:italic;">LTBP2</text>
<text x="308.5" y="604.3" font-size="10.6" text-anchor="start" fill="#000" style="">Other groups</text>
<line x1="478.6" y1="411.0" x2="478.6" y2="680.35" stroke="#2a2a2a" stroke-width="1.3"/>
<line x1="477.95" y1="679.7" x2="783.0" y2="679.7" stroke="#2a2a2a" stroke-width="1.3"/>
<text x="476.6" y="644.3000000000001" font-size="10.7" text-anchor="end" fill="#4d4d4d" style="">0</text>
<line x1="477.3" y1="640.6" x2="479" y2="640.6" stroke="#4d4d4d" stroke-width="0.8"/>
<text x="476.6" y="572.3000000000001" font-size="10.7" text-anchor="end" fill="#4d4d4d" style="">50</text>
<line x1="477.3" y1="568.6" x2="479" y2="568.6" stroke="#4d4d4d" stroke-width="0.8"/>
<text x="476.6" y="500.7" font-size="10.7" text-anchor="end" fill="#4d4d4d" style="">100</text>
<line x1="477.3" y1="497.0" x2="479" y2="497.0" stroke="#4d4d4d" stroke-width="0.8"/>
<text x="476.6" y="434.2" font-size="10.7" text-anchor="end" fill="#4d4d4d" style="">150</text>
<line x1="477.3" y1="430.5" x2="479" y2="430.5" stroke="#4d4d4d" stroke-width="0.8"/>
<text x="559.5" y="689.7" font-size="10.7" text-anchor="middle" fill="#4d4d4d" style="">NonTargeting</text>
<line x1="559.5" y1="679.7" x2="559.5" y2="681.4" stroke="#4d4d4d" stroke-width="0.8"/>
<text x="693.5" y="689.7" font-size="10.7" text-anchor="middle" fill="#4d4d4d" style="">LTBP2</text>
<line x1="693.5" y1="679.7" x2="693.5" y2="681.4" stroke="#4d4d4d" stroke-width="0.8"/>
<text x="632.2" y="719" font-size="17.2" text-anchor="middle" fill="#000" style="">Cell Line</text>
<text x="448.3" y="543.6" font-size="17.2" text-anchor="middle" fill="#000" style="" transform="rotate(-90 448.3 543.6)" textLength="328" lengthAdjust="spacingAndGlyphs">Cell Intensity Median Intensity (corNucleus)</text>
<path d="M559.5,429.0 559.5,429.8 559.5,430.7 559.5,431.5 559.6,432.4 559.6,433.2 559.6,434.1 559.6,434.9 559.6,435.8 559.6,436.6 559.6,437.5 559.6,438.3 559.6,439.2 559.6,440.0 559.7,440.8 559.7,441.6 559.7,442.4 559.7,443.2 559.7,444.0 559.7,444.8 559.7,445.6 559.7,446.4 559.7,447.2 559.7,448.0 559.7,448.8 559.7,449.6 559.7,450.4 559.7,451.2 559.7,452.0 559.7,452.8 559.7,453.6 559.7,454.4 559.7,455.2 559.7,456.0 559.7,456.8 559.7,457.6 559.7,458.4 559.7,459.2 559.7,460.0 559.7,460.8 559.7,461.6 559.7,462.4 559.7,463.2 559.7,464.0 559.7,464.8 559.7,465.6 559.7,466.4 559.7,467.2 559.7,468.0 559.7,468.8 559.7,469.6 559.7,470.4 559.7,471.2 559.7,472.0 559.7,472.8 559.7,473.6 559.7,474.4 559.7,475.2 559.7,476.0 559.7,476.8 559.7,477.6 559.7,478.4 559.7,479.2 559.7,480.0 559.7,480.8 559.7,481.6 559.7,482.4 559.7,483.2 559.7,484.0 559.7,484.8 559.7,485.6 559.7,486.4 559.7,487.2 559.7,488.0 559.7,488.8 559.7,489.6 559.7,490.4 559.7,491.2 559.7,492.0 559.7,492.8 559.7,493.6 559.7,494.4 559.7,495.2 559.7,496.0 559.7,496.8 559.7,497.6 559.7,498.4 559.7,499.2 559.7,500.0 559.7,500.8 559.7,501.6 559.7,502.4 559.7,503.2 559.7,504.0 559.7,504.8 559.7,505.6 559.7,506.4 559.7,507.2 559.7,508.0 559.7,508.8 559.7,509.6 559.7,510.4 559.7,511.2 559.7,512.0 559.7,512.8 559.7,513.6 559.7,514.4 559.7,515.2 559.7,516.0 559.7,516.8 559.7,517.6 559.7,518.4 559.7,519.2 559.7,520.0 559.7,520.8 559.7,521.6 559.7,522.4 559.7,523.2 559.7,524.0 559.7,524.8 559.7,525.6 559.7,526.4 559.7,527.2 559.7,528.0 559.7,528.8 559.7,529.6 559.7,530.4 559.7,531.2 559.7,532.0 559.7,532.8 559.7,533.6 559.7,534.4 559.7,535.2 559.7,536.0 559.7,536.8 559.7,537.6 559.7,538.4 559.7,539.2 559.7,540.0 559.7,540.8 559.7,541.6 559.7,542.4 559.7,543.2 559.7,544.0 559.7,544.8 559.7,545.6 559.7,546.4 559.7,547.2 559.7,548.0 559.7,548.8 559.7,549.6 559.7,550.4 559.7,551.2 559.7,552.0 559.7,552.8 559.7,553.6 559.7,554.4 559.7,555.2 559.7,556.0 559.7,556.8 559.7,557.6 559.7,558.4 559.7,559.2 559.7,560.0 559.7,560.8 559.7,561.6 559.7,562.4 559.7,563.2 559.7,564.0 559.7,564.8 559.7,565.6 559.7,566.4 559.7,567.2 559.7,568.0 559.7,568.8 559.7,569.6 559.7,570.4 559.7,571.2 559.7,572.0 559.7,572.8 559.7,573.6 559.7,574.4 559.7,575.2 559.7,576.0 559.7,576.8 559.7,577.6 559.7,578.4 559.7,579.2 559.7,580.0 559.7,580.8 559.7,581.6 559.7,582.4 559.7,583.2 559.7,584.0 559.7,584.8 559.7,585.6 559.7,586.4 559.7,587.2 559.7,588.0 559.7,588.8 559.7,589.6 559.7,590.4 559.7,591.2 559.7,592.0 559.7,592.8 559.7,593.6 559.7,594.4 559.7,595.2 559.7,596.0 559.7,596.8 559.7,597.6 559.7,598.4 559.7,599.2 559.8,600.0 559.8,600.8 559.8,601.6 559.8,602.4 559.8,603.2 559.8,604.0 559.8,604.9 559.8,605.7 559.8,606.5 559.8,607.3 559.8,608.1 559.8,608.9 559.8,609.7 559.8,610.5 559.8,611.3 559.8,612.1 559.8,613.0 559.8,613.8 559.8,614.6 559.8,615.4 559.8,616.2 559.9,617.0 559.9,618.0 560.0,619.0 560.3,619.8 560.7,620.6 561.2,621.3 562.0,622.0 562.9,622.6 564.0,623.2 564.8,623.6 565.3,624.0 564.4,624.3 563.0,624.6 561.5,624.9 560.5,625.2 560.1,625.6 559.9,626.0 559.9,626.8 559.9,627.6 560.0,628.4 560.0,629.2 560.1,630.0 560.2,630.8 560.4,631.7 560.7,632.5 561.4,633.5 562.5,634.5 563.8,635.5 565.5,636.5 567.8,637.4 571.5,638.3 576.7,639.0 584.5,639.6 593.7,640.2 604.5,640.7 613.8,641.1 619.5,641.5 608.0,641.9 589.5,642.2 573.6,642.5 563.5,642.9 560.8,643.5 559.8,644.0 559.8,644.8 559.7,645.6 559.7,646.4 559.7,647.2 559.7,648.0 559.7,648.8 559.6,649.6 559.6,650.4 559.6,651.2 559.6,652.0 559.6,652.8 559.6,653.6 559.6,654.4 559.6,655.2 559.6,656.1 559.6,656.9 559.6,657.7 559.6,658.5 559.6,659.3 559.6,660.1 559.5,660.9 559.5,661.7 559.5,662.5 559.5,663.3 559.5,664.1 559.5,664.9 559.5,665.7 559.5,666.5 559.5,665.7 559.5,664.9 559.5,664.1 559.5,663.3 559.5,662.5 559.5,661.7 559.5,660.9 559.4,660.1 559.4,659.3 559.4,658.5 559.4,657.7 559.4,656.9 559.4,656.1 559.4,655.2 559.4,654.4 559.4,653.6 559.4,652.8 559.4,652.0 559.4,651.2 559.4,650.4 559.4,649.6 559.3,648.8 559.3,648.0 559.3,647.2 559.3,646.4 559.3,645.6 559.2,644.8 559.2,644.0 558.2,643.5 555.5,642.9 545.4,642.5 529.5,642.2 511.0,641.9 499.5,641.5 505.2,641.1 514.5,640.7 525.3,640.2 534.5,639.6 542.3,639.0 547.5,638.3 551.2,637.4 553.5,636.5 555.2,635.5 556.5,634.5 557.6,633.5 558.3,632.5 558.6,631.7 558.8,630.8 558.9,630.0 559.0,629.2 559.0,628.4 559.1,627.6 559.1,626.8 559.1,626.0 558.9,625.6 558.5,625.2 557.5,624.9 556.0,624.6 554.6,624.3 553.7,624.0 554.2,623.6 555.0,623.2 556.1,622.6 557.0,622.0 557.8,621.3 558.3,620.6 558.7,619.8 559.0,619.0 559.1,618.0 559.1,617.0 559.2,616.2 559.2,615.4 559.2,614.6 559.2,613.8 559.2,613.0 559.2,612.1 559.2,611.3 559.2,610.5 559.2,609.7 559.2,608.9 559.2,608.1 559.2,607.3 559.2,606.5 559.2,605.7 559.2,604.9 559.2,604.0 559.2,603.2 559.2,602.4 559.2,601.6 559.2,600.8 559.2,600.0 559.3,599.2 559.3,598.4 559.3,597.6 559.3,596.8 559.3,596.0 559.3,595.2 559.3,594.4 559.3,593.6 559.3,592.8 559.3,592.0 559.3,591.2 559.3,590.4 559.3,589.6 559.3,588.8 559.3,588.0 559.3,587.2 559.3,586.4 559.3,585.6 559.3,584.8 559.3,584.0 559.3,583.2 559.3,582.4 559.3,581.6 559.3,580.8 559.3,580.0 559.3,579.2 559.3,578.4 559.3,577.6 559.3,576.8 559.3,576.0 559.3,575.2 559.3,574.4 559.3,573.6 559.3,572.8 559.3,572.0 559.3,571.2 559.3,570.4 559.3,569.6 559.3,568.8 559.3,568.0 559.3,567.2 559.3,566.4 559.3,565.6 559.3,564.8 559.3,564.0 559.3,563.2 559.3,562.4 559.3,561.6 559.3,560.8 559.3,560.0 559.3,559.2 559.3,558.4 559.3,557.6 559.3,556.8 559.3,556.0 559.3,555.2 559.3,554.4 559.3,553.6 559.3,552.8 559.3,552.0 559.3,551.2 559.3,550.4 559.3,549.6 559.3,548.8 559.3,548.0 559.3,547.2 559.3,546.4 559.3,545.6 559.3,544.8 559.3,544.0 559.3,543.2 559.3,542.4 559.3,541.6 559.3,540.8 559.3,540.0 559.3,539.2 559.3,538.4 559.3,537.6 559.3,536.8 559.3,536.0 559.3,535.2 559.3,534.4 559.3,533.6 559.3,532.8 559.3,532.0 559.3,531.2 559.3,530.4 559.3,529.6 559.3,528.8 559.3,528.0 559.3,527.2 559.3,526.4 559.3,525.6 559.3,524.8 559.3,524.0 559.3,523.2 559.3,522.4 559.3,521.6 559.3,520.8 559.3,520.0 559.3,519.2 559.3,518.4 559.3,517.6 559.3,516.8 559.3,516.0 559.3,515.2 559.3,514.4 559.3,513.6 559.3,512.8 559.3,512.0 559.3,511.2 559.3,510.4 559.3,509.6 559.3,508.8 559.3,508.0 559.3,507.2 559.3,506.4 559.3,505.6 559.3,504.8 559.3,504.0 559.3,503.2 559.3,502.4 559.3,501.6 559.3,500.8 559.3,500.0 559.3,499.2 559.3,498.4 559.3,497.6 559.3,496.8 559.3,496.0 559.3,495.2 559.3,494.4 559.3,493.6 559.3,492.8 559.3,492.0 559.3,491.2 559.3,490.4 559.3,489.6 559.3,488.8 559.3,488.0 559.3,487.2 559.3,486.4 559.3,485.6 559.3,484.8 559.3,484.0 559.3,483.2 559.3,482.4 559.3,481.6 559.3,480.8 559.3,480.0 559.3,479.2 559.3,478.4 559.3,477.6 559.3,476.8 559.3,476.0 559.3,475.2 559.3,474.4 559.3,473.6 559.3,472.8 559.3,472.0 559.3,471.2 559.3,470.4 559.3,469.6 559.3,468.8 559.3,468.0 559.3,467.2 559.3,466.4 559.3,465.6 559.3,464.8 559.3,464.0 559.3,463.2 559.3,462.4 559.3,461.6 559.3,460.8 559.3,460.0 559.3,459.2 559.3,458.4 559.3,457.6 559.3,456.8 559.3,456.0 559.3,455.2 559.3,454.4 559.3,453.6 559.3,452.8 559.3,452.0 559.3,451.2 559.3,450.4 559.3,449.6 559.3,448.8 559.3,448.0 559.3,447.2 559.3,446.4 559.3,445.6 559.3,444.8 559.3,444.0 559.3,443.2 559.3,442.4 559.3,441.6 559.3,440.8 559.4,440.0 559.4,439.2 559.4,438.3 559.4,437.5 559.4,436.6 559.4,435.8 559.4,434.9 559.4,434.1 559.4,433.2 559.4,432.4 559.5,431.5 559.5,430.7 559.5,429.8 Z" fill="#4fc1c3" stroke="#1c1c1c" stroke-width="0.72" stroke-linejoin="round"/>
<path d="M693.5,458.5 693.5,459.3 693.5,460.1 693.5,461.0 693.6,461.8 693.6,462.6 693.6,463.4 693.6,464.2 693.6,465.1 693.6,465.9 693.6,466.7 693.6,467.5 693.6,468.4 693.6,469.2 693.6,470.0 693.7,470.8 693.7,471.6 693.7,472.4 693.7,473.2 693.7,474.0 693.7,474.8 693.7,475.6 693.7,476.4 693.7,477.2 693.7,478.0 693.7,478.8 693.7,479.6 693.7,480.4 693.7,481.2 693.7,482.0 693.7,482.8 693.7,483.6 693.7,484.4 693.7,485.2 693.7,486.0 693.7,486.8 693.7,487.6 693.7,488.4 693.7,489.2 693.7,490.0 693.7,490.8 693.7,491.6 693.7,492.4 693.7,493.2 693.7,494.0 693.7,494.8 693.7,495.6 693.7,496.4 693.7,497.2 693.7,498.0 693.7,498.8 693.7,499.6 693.7,500.4 693.7,501.2 693.7,502.0 693.7,502.8 693.7,503.6 693.7,504.4 693.7,505.2 693.7,506.0 693.7,506.8 693.7,507.6 693.7,508.4 693.7,509.2 693.7,510.0 693.7,510.8 693.7,511.6 693.7,512.4 693.7,513.2 693.7,514.0 693.7,514.8 693.7,515.6 693.7,516.4 693.7,517.2 693.7,518.0 693.7,518.8 693.7,519.6 693.7,520.4 693.7,521.2 693.7,522.0 693.7,522.8 693.7,523.6 693.7,524.4 693.7,525.2 693.7,526.0 693.7,526.8 693.7,527.6 693.7,528.4 693.7,529.2 693.7,530.0 693.7,530.8 693.7,531.6 693.7,532.4 693.7,533.2 693.7,534.0 693.7,534.8 693.7,535.6 693.7,536.4 693.7,537.2 693.7,538.0 693.7,538.8 693.7,539.6 693.7,540.4 693.7,541.2 693.7,542.0 693.7,542.8 693.7,543.6 693.7,544.4 693.7,545.2 693.7,546.0 693.7,546.8 693.7,547.6 693.7,548.4 693.7,549.2 693.7,550.0 693.7,550.8 693.7,551.6 693.7,552.4 693.7,553.2 693.7,554.0 693.7,554.8 693.7,555.6 693.7,556.4 693.7,557.2 693.7,558.0 693.7,558.8 693.7,559.6 693.7,560.4 693.7,561.2 693.7,562.0 693.7,562.8 693.7,563.6 693.7,564.4 693.7,565.2 693.7,566.0 693.7,566.8 693.7,567.6 693.7,568.4 693.7,569.2 693.7,570.0 693.7,570.8 693.7,571.6 693.7,572.4 693.7,573.2 693.7,574.0 693.7,574.8 693.7,575.6 693.7,576.4 693.7,577.2 693.7,578.0 693.7,578.8 693.7,579.6 693.7,580.4 693.7,581.2 693.7,582.0 693.7,582.8 693.7,583.6 693.7,584.4 693.7,585.2 693.7,586.0 693.7,586.8 693.7,587.6 693.7,588.4 693.7,589.2 693.7,590.0 693.7,590.8 693.7,591.7 693.7,592.5 693.7,593.3 693.7,594.2 693.7,595.0 693.7,595.8 693.7,596.7 693.8,597.5 693.8,598.3 693.8,599.2 693.8,600.0 693.9,601.0 694.1,602.0 694.3,603.0 694.5,604.0 694.8,605.0 694.9,606.0 694.8,607.0 694.7,608.0 694.3,609.0 694.0,610.0 694.0,611.0 694.0,612.0 694.1,613.0 694.4,614.1 695.0,615.3 695.7,616.2 696.6,617.1 697.6,618.1 698.5,619.0 699.2,619.8 699.9,620.7 700.6,621.5 701.2,622.3 701.6,623.2 701.7,624.0 701.5,624.8 701.1,625.6 700.5,626.4 699.9,627.2 699.3,628.0 698.3,629.0 697.3,630.0 696.8,631.0 697.1,632.0 697.8,633.0 698.5,634.0 698.9,634.9 699.4,635.7 699.8,636.6 700.3,637.4 700.6,638.3 700.8,639.1 700.9,640.0 700.8,640.8 700.4,641.6 699.9,642.4 699.3,643.2 698.7,644.0 697.9,644.9 697.0,645.8 696.0,646.6 695.3,647.5 694.8,648.3 694.3,649.2 694.0,650.0 693.8,650.8 693.7,651.7 693.5,652.5 693.3,651.7 693.2,650.8 693.0,650.0 692.7,649.2 692.2,648.3 691.7,647.5 691.0,646.6 690.0,645.8 689.1,644.9 688.3,644.0 687.7,643.2 687.1,642.4 686.6,641.6 686.2,640.8 686.1,640.0 686.2,639.1 686.4,638.3 686.7,637.4 687.2,636.6 687.6,635.7 688.1,634.9 688.5,634.0 689.2,633.0 689.9,632.0 690.2,631.0 689.7,630.0 688.7,629.0 687.7,628.0 687.1,627.2 686.5,626.4 685.9,625.6 685.5,624.8 685.3,624.0 685.4,623.2 685.8,622.3 686.4,621.5 687.1,620.7 687.8,619.8 688.5,619.0 689.4,618.1 690.4,617.1 691.3,616.2 692.0,615.3 692.6,614.1 692.9,613.0 693.0,612.0 693.0,611.0 693.0,610.0 692.7,609.0 692.3,608.0 692.2,607.0 692.1,606.0 692.2,605.0 692.5,604.0 692.7,603.0 692.9,602.0 693.1,601.0 693.2,600.0 693.2,599.2 693.2,598.3 693.2,597.5 693.3,596.7 693.3,595.8 693.3,595.0 693.3,594.2 693.3,593.3 693.3,592.5 693.3,591.7 693.3,590.8 693.3,590.0 693.3,589.2 693.3,588.4 693.3,587.6 693.3,586.8 693.3,586.0 693.3,585.2 693.3,584.4 693.3,583.6 693.3,582.8 693.3,582.0 693.3,581.2 693.3,580.4 693.3,579.6 693.3,578.8 693.3,578.0 693.3,577.2 693.3,576.4 693.3,575.6 693.3,574.8 693.3,574.0 693.3,573.2 693.3,572.4 693.3,571.6 693.3,570.8 693.3,570.0 693.3,569.2 693.3,568.4 693.3,567.6 693.3,566.8 693.3,566.0 693.3,565.2 693.3,564.4 693.3,563.6 693.3,562.8 693.3,562.0 693.3,561.2 693.3,560.4 693.3,559.6 693.3,558.8 693.3,558.0 693.3,557.2 693.3,556.4 693.3,555.6 693.3,554.8 693.3,554.0 693.3,553.2 693.3,552.4 693.3,551.6 693.3,550.8 693.3,550.0 693.3,549.2 693.3,548.4 693.3,547.6 693.3,546.8 693.3,546.0 693.3,545.2 693.3,544.4 693.3,543.6 693.3,542.8 693.3,542.0 693.3,541.2 693.3,540.4 693.3,539.6 693.3,538.8 693.3,538.0 693.3,537.2 693.3,536.4 693.3,535.6 693.3,534.8 693.3,534.0 693.3,533.2 693.3,532.4 693.3,531.6 693.3,530.8 693.3,530.0 693.3,529.2 693.3,528.4 693.3,527.6 693.3,526.8 693.3,526.0 693.3,525.2 693.3,524.4 693.3,523.6 693.3,522.8 693.3,522.0 693.3,521.2 693.3,520.4 693.3,519.6 693.3,518.8 693.3,518.0 693.3,517.2 693.3,516.4 693.3,515.6 693.3,514.8 693.3,514.0 693.3,513.2 693.3,512.4 693.3,511.6 693.3,510.8 693.3,510.0 693.3,509.2 693.3,508.4 693.3,507.6 693.3,506.8 693.3,506.0 693.3,505.2 693.3,504.4 693.3,503.6 693.3,502.8 693.3,502.0 693.3,501.2 693.3,500.4 693.3,499.6 693.3,498.8 693.3,498.0 693.3,497.2 693.3,496.4 693.3,495.6 693.3,494.8 693.3,494.0 693.3,493.2 693.3,492.4 693.3,491.6 693.3,490.8 693.3,490.0 693.3,489.2 693.3,488.4 693.3,487.6 693.3,486.8 693.3,486.0 693.3,485.2 693.3,484.4 693.3,483.6 693.3,482.8 693.3,482.0 693.3,481.2 693.3,480.4 693.3,479.6 693.3,478.8 693.3,478.0 693.3,477.2 693.3,476.4 693.3,475.6 693.3,474.8 693.3,474.0 693.3,473.2 693.3,472.4 693.3,471.6 693.3,470.8 693.4,470.0 693.4,469.2 693.4,468.4 693.4,467.5 693.4,466.7 693.4,465.9 693.4,465.1 693.4,464.2 693.4,463.4 693.4,462.6 693.4,461.8 693.5,461.0 693.5,460.1 693.5,459.3 Z" fill="#ec6865" stroke="#1c1c1c" stroke-width="0.72" stroke-linejoin="round"/>
<rect x="692.7" y="625.1" width="1.6" height="15.2" fill="#fff" stroke="#333" stroke-width="0.6"/>
<circle cx="557.7" cy="435.6" r="0.6" fill="#bbb"/><circle cx="557.7" cy="447.8" r="0.6" fill="#bbb"/>
<rect x="559.0" y="607.5" width="1.0" height="1.3" fill="#222"/>
<rect x="559.0" y="610.5" width="1.0" height="1.3" fill="#222"/>
<rect x="559.0" y="613" width="1.0" height="1.3" fill="#222"/>
<rect x="559.0" y="615.5" width="1.0" height="1.3" fill="#222"/>
<text x="0.4" y="766.8" font-size="36" text-anchor="start" fill="#000" style="">C</text>
<line x1="39.3" y1="780.2" x2="39.3" y2="1061.4" stroke="#151515" stroke-width="1.45"/>
<line x1="38.8" y1="1060.8" x2="345.3" y2="1060.8" stroke="#151515" stroke-width="1.45"/>
<text x="35.9" y="795.7" font-size="10.7" text-anchor="end" fill="#4d4d4d" style="">10</text>
<line x1="37.5" y1="792.0" x2="39.3" y2="792.0" stroke="#4d4d4d" stroke-width="0.8"/>
<text x="35.9" y="876.7" font-size="10.7" text-anchor="end" fill="#4d4d4d" style="">5</text>
<line x1="37.5" y1="873.0" x2="39.3" y2="873.0" stroke="#4d4d4d" stroke-width="0.8"/>
<text x="35.9" y="957.7" font-size="10.7" text-anchor="end" fill="#4d4d4d" style="">0</text>
<line x1="37.5" y1="954.0" x2="39.3" y2="954.0" stroke="#4d4d4d" stroke-width="0.8"/>
<text x="35.9" y="1038.7" font-size="10.7" text-anchor="end" fill="#4d4d4d" style="">−5</text>
<line x1="37.5" y1="1035.0" x2="39.3" y2="1035.0" stroke="#4d4d4d" stroke-width="0.8"/>
<text x="66.0" y="1072.0" font-size="10.7" text-anchor="middle" fill="#4d4d4d" style="">−5</text>
<line x1="66.0" y1="1060.8" x2="66.0" y2="1062.5" stroke="#4d4d4d" stroke-width="0.8"/>
<text x="149.0" y="1072.0" font-size="10.7" text-anchor="middle" fill="#4d4d4d" style="">0</text>
<line x1="149.0" y1="1060.8" x2="149.0" y2="1062.5" stroke="#4d4d4d" stroke-width="0.8"/>
<text x="232.0" y="1072.0" font-size="10.7" text-anchor="middle" fill="#4d4d4d" style="">5</text>
<line x1="232.0" y1="1060.8" x2="232.0" y2="1062.5" stroke="#4d4d4d" stroke-width="0.8"/>
<text x="315.0" y="1072.0" font-size="10.7" text-anchor="middle" fill="#4d4d4d" style="">10</text>
<line x1="315.0" y1="1060.8" x2="315.0" y2="1062.5" stroke="#4d4d4d" stroke-width="0.8"/>
<text x="194.2" y="1095" font-size="17.2" text-anchor="middle" fill="#000" style="" textLength="223.5" lengthAdjust="spacingAndGlyphs">Cell Granularity - 7 (corAGP)</text>
<text x="23" y="940" font-size="17.2" text-anchor="middle" fill="#000" style="" transform="rotate(-90 23 940)" textLength="225" lengthAdjust="spacingAndGlyphs">Cell Granularity - 6 (corMito)</text>
<circle cx="79" cy="950" r="1.1" fill="#b8b8b8"/>
<circle cx="97.5" cy="1005" r="1.1" fill="#b8b8b8"/>
<circle cx="74" cy="1010.5" r="1.1" fill="#b8b8b8"/>
<circle cx="81.5" cy="1021.5" r="1.1" fill="#b8b8b8"/>
<circle cx="61.5" cy="1030" r="1.1" fill="#b8b8b8"/>
<circle cx="91.5" cy="1031.5" r="1.1" fill="#b8b8b8"/>
<circle cx="70" cy="1040" r="1.1" fill="#b8b8b8"/>
<circle cx="59.5" cy="1045.5" r="1.1" fill="#b8b8b8"/>
<circle cx="52.5" cy="1048.5" r="1.1" fill="#b8b8b8"/>
<circle cx="146.5" cy="1008.5" r="1.1" fill="#b8b8b8"/>
<circle cx="152.5" cy="1003" r="1.1" fill="#b8b8b8"/>
<circle cx="151.5" cy="1029" r="1.1" fill="#b8b8b8"/>
<g fill="#c4c4c4"><ellipse cx="149" cy="952.5" rx="4.8" ry="5.2"/><circle cx="153.5" cy="948.5" r="1.8"/><circle cx="154" cy="957.5" r="1.8"/><circle cx="145.5" cy="957" r="1.6"/></g>
<rect x="66" y="778.2" width="130.1" height="99.5" fill="#020002"/>
<rect x="159.2" y="890.5" width="127.4" height="70.6" fill="#020002"/>
<rect x="205.3" y="978.4" width="117.6" height="71.4" fill="#020002"/>
<g filter="url(#b15)">
<path d="M72,808 C76,818 80,828 84,836" stroke="#4a1a2c" stroke-width="2.2" fill="none"/>
<circle cx="72.5" cy="808.5" r="1.8" fill="#7a2038"/>
<path d="M83,834 C88,838 95,846 99,855 L90,858 C86,852 83,844 83,834 Z" fill="#5cb060"/>
<ellipse cx="90" cy="847" rx="4" ry="6" transform="rotate(-25 90 847)" fill="#88d090" opacity="0.8"/>
<ellipse cx="87.7" cy="848.6" rx="2.2" ry="2.8" fill="#5a70b0"/>
<circle cx="89.4" cy="857.8" r="1.8" fill="#e02848"/>
<circle cx="98.6" cy="857" r="2" fill="#e02848"/>
<circle cx="97" cy="847.7" r="1.2" fill="#c02040"/>
<path d="M116.3,807.4 C120,818 124,828 128,836" stroke="#3a1828" stroke-width="2.2" fill="none"/>
<circle cx="116.3" cy="807.4" r="2.3" fill="#f8d8a0"/>
<circle cx="117.5" cy="809" r="1.4" fill="#e86060"/>
<circle cx="126.3" cy="818.3" r="1.6" fill="#d83048"/>
<circle cx="127.2" cy="830" r="1" fill="#f0f0e0"/>
<ellipse cx="131.4" cy="842.5" rx="2.4" ry="9.5" transform="rotate(-25 131.4 842.5)" fill="#5aa868"/>
<circle cx="131.4" cy="853.6" r="1.8" fill="#e02848"/>
<circle cx="140.6" cy="860.4" r="1.6" fill="#e02848"/>
<path d="M135,855 L141,861" stroke="#5a3a70" stroke-width="2" fill="none"/>
<ellipse cx="167" cy="803" rx="8" ry="5" transform="rotate(25 167 803)" fill="#7a4a5a" opacity="0.8"/>
<ellipse cx="168" cy="803.2" rx="4.5" ry="2.8" transform="rotate(25 168 803.2)" fill="#c8e8c8"/>
<circle cx="176.8" cy="799" r="1.5" fill="#d83048"/>
<circle cx="181" cy="819.2" r="1.3" fill="#c02040"/>
<circle cx="188.5" cy="826.7" r="1.8" fill="#e02848"/>
<path d="M172,809 C176,814 180,822 182,830" stroke="#3a1a2a" stroke-width="2.5" fill="none"/>
<path d="M179,835 L184,837 C181,848 175,860 170,869.5 L168.5,869 C172,858 176,846 179,835 Z" fill="#5e5078"/>
<path d="M180.5,840 C178.5,850 175,857 171.5,864" stroke="#8a7aa4" stroke-width="1.2" fill="none"/>
<ellipse cx="179" cy="924" rx="2.5" ry="9" transform="rotate(15 179 924)" fill="#62a878"/>
<circle cx="184.4" cy="924.8" r="1.3" fill="#d02848"/>
<circle cx="176.7" cy="931.5" r="1.5" fill="#e05060"/>
<ellipse cx="207.5" cy="929.6" rx="2.6" ry="6.5" transform="rotate(40 207.5 929.6)" fill="#6a4a8a"/>
<circle cx="207.8" cy="929" r="1.4" fill="#d86a90"/>
<path d="M243.5,899 L238,918" stroke="#3a1020" stroke-width="2.5" fill="none"/>
<ellipse cx="235.5" cy="926" rx="3.5" ry="12" transform="rotate(22 235.5 926)" fill="#5ea46c"/>
<circle cx="234" cy="931.5" r="1.8" fill="#e04858"/>
<circle cx="241.6" cy="924" r="1.5" fill="#e04858"/>
<path d="M252,902 C258,912 266,924 276,936 L281,946" stroke="#3a1020" stroke-width="3.5" fill="none"/>
<path d="M234,932 L230,946" stroke="#3a1a30" stroke-width="3" fill="none"/>
<circle cx="229.8" cy="933.2" r="1.3" fill="#e05070"/>
<ellipse cx="268" cy="927.5" rx="3.5" ry="11" transform="rotate(-30 268 927.5)" fill="#66a870"/>
<circle cx="274" cy="935" r="1.8" fill="#e03050"/>
<ellipse cx="219" cy="1023.4" rx="3" ry="8" fill="#5a58a8"/>
<ellipse cx="218" cy="1020" rx="2" ry="4" fill="#66aa66"/>
<circle cx="221" cy="1021" r="1.5" fill="#e03040"/>
<path d="M230.6,986 L236,1002" stroke="#5a2a40" stroke-width="2.5" fill="none"/>
<path d="M235,1000 C240,1006 247,1015 251,1024 C254,1030 255.5,1034 255,1037 C252,1034 247,1028 243,1021 C239,1013 236,1006 235,1000 Z" fill="#6a4a5c"/>
<path d="M241,1011 C245,1018 249,1025 252,1031" stroke="#9a9a80" stroke-width="2" fill="none" opacity="0.8"/>
<circle cx="237.7" cy="1002" r="1.8" fill="#c02040"/>
<circle cx="254.5" cy="1036.5" r="1.3" fill="#e03050"/>
<ellipse cx="276" cy="1021.5" rx="3" ry="9" transform="rotate(30 276 1021.5)" fill="#5ea466"/>
<circle cx="285" cy="1003" r="1.8" fill="#e84a6a"/>
<circle cx="269.8" cy="1035.9" r="2.2" fill="#f04070"/>
<path d="M308.5,996 C310,1004 308,1016 304,1026 C301,1032 298.5,1036 296.5,1038 C296,1030 298,1018 301,1010 C304,1003 306.5,999 308.5,996 Z" fill="#5e5266"/>
<path d="M306,1004 C305,1014 302,1024 299,1032" stroke="#8a8094" stroke-width="1.5" fill="none" opacity="0.9"/>
<circle cx="307.2" cy="1011" r="1.2" fill="#e04050"/>
</g>
<rect x="178.4" y="871" width="4.3" height="1.4" fill="#f0f0f0"/>
<rect x="280.7" y="953.8" width="3" height="1.3" fill="#f0f0f0"/>
<rect x="317.5" y="1044.8" width="3.3" height="1.4" fill="#f0f0f0"/>
<line x1="303.2" y1="800.9" x2="229.98828079443948" y2="804.8671374938973" stroke="#5a56a4" stroke-width="1.0"/>
<polygon points="222.00,805.30 230.75,800.52 231.22,809.11" fill="#5a56a4" stroke="#5a56a4" stroke-width="0.6" stroke-linejoin="round"/>
<line x1="284.1" y1="847.9" x2="250.6767073756715" y2="878.771896240792" stroke="#d42a3c" stroke-width="1.0"/>
<polygon points="244.80,884.20 248.49,874.93 254.33,881.25" fill="#d42a3c" stroke="#d42a3c" stroke-width="0.6" stroke-linejoin="round"/>
<line x1="320.9" y1="835.4" x2="296.74699755249725" y2="966.7319508082965" stroke="#74b545" stroke-width="1.0"/>
<polygon points="295.30,974.60 292.70,964.97 301.16,966.53" fill="#74b545" stroke="#5a8a3a" stroke-width="0.6" stroke-linejoin="round"/>
<circle cx="312.3" cy="800.2" r="1.1" fill="#2a2440"/>
<circle cx="331.8" cy="792.8" r="1.0" fill="#b0b0b0"/>
<circle cx="323.8" cy="822.2" r="1.1" fill="#6a9a40"/>
<circle cx="288.9" cy="844.2" r="1.1" fill="#c02030"/>
<circle cx="315.5" cy="926.9" r="2.6" fill="#5a56a4"/>
<text x="325.4" y="932.6" font-size="10.6" text-anchor="start" fill="#000" style="font-style:italic;">PLEKHA7</text>
<circle cx="315.5" cy="939.1" r="2.6" fill="#6eab3e"/>
<text x="325.4" y="944.8000000000001" font-size="10.6" text-anchor="start" fill="#000" style="font-style:italic;">TMCO1</text>
<circle cx="315.5" cy="951.3" r="2.6" fill="#d2202e"/>
<text x="325.4" y="957.0" font-size="10.6" text-anchor="start" fill="#000" style="font-style:italic;">TRIOBP</text>
<circle cx="315.5" cy="963.5" r="2.6" fill="#c3c3c3"/>
<text x="325.4" y="969.2" font-size="10.6" text-anchor="start" fill="#000" style="">Other groups</text>
<line x1="478.55" y1="793.5" x2="478.55" y2="1062.65" stroke="#2a2a2a" stroke-width="1.3"/>
<line x1="477.9" y1="1062.0" x2="783.0" y2="1062.0" stroke="#2a2a2a" stroke-width="1.3"/>
<text x="475.8" y="1016.2" font-size="10.7" text-anchor="end" fill="#4d4d4d" style="">0</text>
<line x1="476.9" y1="1012.5" x2="478.55" y2="1012.5" stroke="#4d4d4d" stroke-width="0.8"/>
<text x="475.8" y="962.0250000000001" font-size="10.7" text-anchor="end" fill="#4d4d4d" style="">25</text>
<line x1="476.9" y1="958.325" x2="478.55" y2="958.325" stroke="#4d4d4d" stroke-width="0.8"/>
<text x="475.8" y="907.85" font-size="10.7" text-anchor="end" fill="#4d4d4d" style="">50</text>
<line x1="476.9" y1="904.15" x2="478.55" y2="904.15" stroke="#4d4d4d" stroke-width="0.8"/>
<text x="475.8" y="853.6750000000001" font-size="10.7" text-anchor="end" fill="#4d4d4d" style="">75</text>
<line x1="476.9" y1="849.975" x2="478.55" y2="849.975" stroke="#4d4d4d" stroke-width="0.8"/>
<text x="520.6" y="1072.9" font-size="10.7" text-anchor="middle" fill="#4d4d4d" style="">NonTargeting</text>
<line x1="520.6" y1="1062" x2="520.6" y2="1063.7" stroke="#4d4d4d" stroke-width="0.8"/>
<text x="591.3" y="1072.9" font-size="10.7" text-anchor="middle" fill="#4d4d4d" style="">TRIOBP</text>
<line x1="591.3" y1="1062" x2="591.3" y2="1063.7" stroke="#4d4d4d" stroke-width="0.8"/>
<text x="661.9" y="1072.9" font-size="10.7" text-anchor="middle" fill="#4d4d4d" style="">TMCO1</text>
<line x1="661.9" y1="1062" x2="661.9" y2="1063.7" stroke="#4d4d4d" stroke-width="0.8"/>
<text x="732.7" y="1072.9" font-size="10.7" text-anchor="middle" fill="#4d4d4d" style="">PLEKHA7</text>
<line x1="732.7" y1="1062" x2="732.7" y2="1063.7" stroke="#4d4d4d" stroke-width="0.8"/>
<text x="632.2" y="1098" font-size="17.2" text-anchor="middle" fill="#000" style="">Cell Line</text>
<text x="448.3" y="929.6" font-size="17.2" text-anchor="middle" fill="#000" style="" transform="rotate(-90 448.3 929.6)" textLength="218" lengthAdjust="spacingAndGlyphs">Cell Granularity - 7 (corAGP)</text>
<path d="M520.5,841.4 520.5,842.2 520.5,843.0 520.5,843.8 520.5,844.6 520.5,845.4 520.5,846.3 520.6,847.1 520.6,847.9 520.6,848.7 520.6,849.5 520.6,850.3 520.6,851.1 520.6,851.9 520.6,852.7 520.6,853.5 520.6,854.3 520.6,855.1 520.6,856.0 520.6,856.8 520.6,857.6 520.6,858.4 520.6,859.2 520.6,860.0 520.7,860.8 520.7,861.6 520.7,862.4 520.7,863.2 520.7,864.0 520.7,864.8 520.7,865.6 520.7,866.4 520.7,867.2 520.7,868.0 520.7,868.8 520.7,869.6 520.7,870.5 520.7,871.3 520.7,872.1 520.7,872.9 520.7,873.7 520.7,874.5 520.7,875.3 520.7,876.1 520.7,876.9 520.7,877.7 520.7,878.5 520.7,879.3 520.7,880.1 520.7,880.9 520.7,881.7 520.7,882.5 520.7,883.3 520.7,884.1 520.7,884.9 520.7,885.7 520.7,886.5 520.7,887.3 520.7,888.1 520.7,888.9 520.7,889.8 520.7,890.6 520.7,891.4 520.7,892.2 520.7,893.0 520.7,893.8 520.7,894.6 520.7,895.4 520.7,896.2 520.7,897.0 520.7,897.8 520.7,898.6 520.7,899.4 520.7,900.2 520.7,901.0 520.7,901.8 520.7,902.6 520.7,903.4 520.7,904.2 520.7,905.0 520.7,905.8 520.7,906.6 520.7,907.4 520.7,908.2 520.7,909.1 520.7,909.9 520.7,910.7 520.7,911.5 520.7,912.3 520.7,913.1 520.7,913.9 520.7,914.7 520.7,915.5 520.7,916.3 520.7,917.1 520.7,917.9 520.7,918.7 520.7,919.5 520.7,920.3 520.7,921.1 520.7,921.9 520.7,922.7 520.7,923.5 520.7,924.3 520.7,925.1 520.7,925.9 520.7,926.7 520.7,927.5 520.7,928.4 520.7,929.2 520.7,930.0 520.7,930.8 520.7,931.6 520.7,932.4 520.7,933.2 520.7,934.0 520.7,934.8 520.7,935.6 520.7,936.4 520.7,937.2 520.8,938.0 520.8,938.9 520.8,939.8 520.8,940.6 520.9,941.5 520.9,942.4 520.9,943.2 521.0,944.1 521.0,945.0 521.0,945.9 521.0,946.8 521.1,947.6 521.1,948.5 521.1,949.4 521.1,950.2 521.1,951.1 521.1,952.0 521.1,952.8 521.1,953.6 521.1,954.4 521.1,955.2 521.1,956.0 521.1,956.8 521.1,957.6 521.1,958.4 521.1,959.2 521.1,960.0 521.1,960.8 521.1,961.6 521.1,962.4 521.1,963.2 521.1,964.0 521.1,964.8 521.1,965.6 521.1,966.4 521.1,967.2 521.1,968.0 521.1,968.8 521.1,969.6 521.1,970.4 521.1,971.2 521.1,972.0 521.1,972.8 521.1,973.6 521.1,974.4 521.1,975.2 521.1,976.0 521.1,976.8 521.1,977.6 521.1,978.4 521.1,979.2 521.1,980.0 521.1,980.8 521.1,981.6 521.1,982.4 521.1,983.2 521.1,984.0 521.1,984.8 521.1,985.6 521.1,986.4 521.1,987.2 521.1,988.0 521.1,988.8 521.1,989.6 521.1,990.4 521.1,991.2 521.1,992.0 521.1,992.8 521.1,993.6 521.1,994.4 521.1,995.2 521.1,996.0 521.1,996.8 521.1,997.6 521.1,998.4 521.1,999.2 521.1,1000.0 521.1,1000.8 521.1,1001.7 521.2,1002.5 521.2,1003.3 521.3,1004.2 521.4,1005.0 522.5,1005.8 524.5,1006.6 527.1,1007.5 530.5,1008.4 535.0,1009.3 540.5,1010.2 545.9,1010.9 550.5,1011.6 551.8,1012.0 552.5,1012.3 551.8,1012.6 550.5,1013.0 546.0,1013.9 540.5,1014.7 535.1,1015.5 530.5,1016.4 527.0,1017.5 524.5,1018.5 522.7,1019.4 521.5,1020.2 520.9,1021.1 520.5,1022.0 520.1,1021.1 519.5,1020.2 518.3,1019.4 516.5,1018.5 514.0,1017.5 510.5,1016.4 505.9,1015.5 500.5,1014.7 495.0,1013.9 490.5,1013.0 489.2,1012.6 488.5,1012.3 489.2,1012.0 490.5,1011.6 495.1,1010.9 500.5,1010.2 506.0,1009.3 510.5,1008.4 513.9,1007.5 516.5,1006.6 518.5,1005.8 519.6,1005.0 519.7,1004.2 519.8,1003.3 519.8,1002.5 519.9,1001.7 519.9,1000.8 519.9,1000.0 519.9,999.2 519.9,998.4 519.9,997.6 519.9,996.8 519.9,996.0 519.9,995.2 519.9,994.4 519.9,993.6 519.9,992.8 519.9,992.0 519.9,991.2 519.9,990.4 519.9,989.6 519.9,988.8 519.9,988.0 519.9,987.2 519.9,986.4 519.9,985.6 519.9,984.8 519.9,984.0 519.9,983.2 519.9,982.4 519.9,981.6 519.9,980.8 519.9,980.0 519.9,979.2 519.9,978.4 519.9,977.6 519.9,976.8 519.9,976.0 519.9,975.2 519.9,974.4 519.9,973.6 519.9,972.8 519.9,972.0 519.9,971.2 519.9,970.4 519.9,969.6 519.9,968.8 519.9,968.0 519.9,967.2 519.9,966.4 519.9,965.6 519.9,964.8 519.9,964.0 519.9,963.2 519.9,962.4 519.9,961.6 519.9,960.8 519.9,960.0 519.9,959.2 519.9,958.4 519.9,957.6 519.9,956.8 519.9,956.0 519.9,955.2 519.9,954.4 519.9,953.6 519.9,952.8 519.9,952.0 519.9,951.1 519.9,950.2 519.9,949.4 519.9,948.5 519.9,947.6 520.0,946.8 520.0,945.9 520.0,945.0 520.0,944.1 520.1,943.2 520.1,942.4 520.1,941.5 520.2,940.6 520.2,939.8 520.2,938.9 520.2,938.0 520.3,937.2 520.3,936.4 520.3,935.6 520.3,934.8 520.3,934.0 520.3,933.2 520.3,932.4 520.3,931.6 520.3,930.8 520.3,930.0 520.3,929.2 520.3,928.4 520.3,927.5 520.3,926.7 520.3,925.9 520.3,925.1 520.3,924.3 520.3,923.5 520.3,922.7 520.3,921.9 520.3,921.1 520.3,920.3 520.3,919.5 520.3,918.7 520.3,917.9 520.3,917.1 520.3,916.3 520.3,915.5 520.3,914.7 520.3,913.9 520.3,913.1 520.3,912.3 520.3,911.5 520.3,910.7 520.3,909.9 520.3,909.1 520.3,908.2 520.3,907.4 520.3,906.6 520.3,905.8 520.3,905.0 520.3,904.2 520.3,903.4 520.3,902.6 520.3,901.8 520.3,901.0 520.3,900.2 520.3,899.4 520.3,898.6 520.3,897.8 520.3,897.0 520.3,896.2 520.3,895.4 520.3,894.6 520.3,893.8 520.3,893.0 520.3,892.2 520.3,891.4 520.3,890.6 520.3,889.8 520.3,888.9 520.3,888.1 520.3,887.3 520.3,886.5 520.3,885.7 520.3,884.9 520.3,884.1 520.3,883.3 520.3,882.5 520.3,881.7 520.3,880.9 520.3,880.1 520.3,879.3 520.3,878.5 520.3,877.7 520.3,876.9 520.3,876.1 520.3,875.3 520.3,874.5 520.3,873.7 520.3,872.9 520.3,872.1 520.3,871.3 520.3,870.5 520.3,869.6 520.3,868.8 520.3,868.0 520.3,867.2 520.3,866.4 520.3,865.6 520.3,864.8 520.3,864.0 520.3,863.2 520.3,862.4 520.3,861.6 520.3,860.8 520.4,860.0 520.4,859.2 520.4,858.4 520.4,857.6 520.4,856.8 520.4,856.0 520.4,855.1 520.4,854.3 520.4,853.5 520.4,852.7 520.4,851.9 520.4,851.1 520.4,850.3 520.4,849.5 520.4,848.7 520.4,847.9 520.4,847.1 520.5,846.3 520.5,845.4 520.5,844.6 520.5,843.8 520.5,843.0 520.5,842.2 Z" fill="#ec6865" stroke="#1c1c1c" stroke-width="0.72" stroke-linejoin="round"/>
<path d="M591.4,847.0 591.4,847.8 591.4,848.6 591.4,849.4 591.5,850.2 591.5,851.1 591.5,851.9 591.5,852.7 591.5,853.5 591.5,854.3 591.5,855.1 591.6,855.9 591.6,856.8 591.6,857.6 591.6,858.4 591.6,859.2 591.6,860.0 591.6,860.8 591.6,861.6 591.6,862.4 591.6,863.2 591.6,864.0 591.6,864.8 591.6,865.6 591.6,866.4 591.6,867.2 591.6,868.0 591.6,868.8 591.6,869.6 591.6,870.4 591.6,871.2 591.6,872.0 591.6,872.8 591.6,873.6 591.6,874.4 591.6,875.2 591.6,876.0 591.6,876.8 591.6,877.6 591.6,878.4 591.7,879.2 591.7,880.0 591.7,880.8 591.7,881.6 591.7,882.4 591.7,883.2 591.7,884.0 591.7,884.8 591.7,885.6 591.7,886.4 591.7,887.2 591.7,888.0 591.7,888.8 591.7,889.6 591.7,890.4 591.7,891.2 591.7,892.0 591.7,892.8 591.7,893.6 591.7,894.4 591.7,895.2 591.7,896.0 591.7,896.8 591.7,897.6 591.7,898.4 591.7,899.2 591.7,900.0 591.7,900.8 591.7,901.6 591.7,902.4 591.7,903.2 591.7,904.0 591.7,904.8 591.7,905.6 591.8,906.4 591.8,907.2 591.8,908.0 591.8,908.8 591.8,909.6 591.8,910.4 591.8,911.2 591.8,912.0 591.9,912.8 591.9,913.6 591.9,914.4 591.9,915.2 591.9,916.0 591.9,916.8 592.0,917.6 592.0,918.4 592.0,919.2 592.0,920.0 592.0,920.8 592.0,921.7 592.1,922.5 592.1,923.3 592.1,924.2 592.1,925.0 592.2,925.8 592.2,926.7 592.2,927.5 592.2,928.3 592.3,929.2 592.3,930.0 592.3,930.8 592.3,931.7 592.3,932.5 592.4,933.3 592.4,934.2 592.4,935.0 592.4,935.8 592.4,936.7 592.4,937.5 592.5,938.3 592.5,939.2 592.5,940.0 592.5,940.8 592.5,941.7 592.5,942.5 592.5,943.3 592.6,944.2 592.6,945.0 592.6,945.8 592.6,946.7 592.6,947.5 592.6,948.3 592.6,949.2 592.6,950.0 592.6,950.8 592.6,951.7 592.6,952.5 592.6,953.3 592.6,954.2 592.6,955.0 592.6,955.8 592.5,956.7 592.5,957.5 592.5,958.3 592.5,959.2 592.5,960.0 592.5,960.8 592.5,961.7 592.4,962.5 592.4,963.3 592.4,964.2 592.4,965.0 592.4,965.8 592.4,966.7 592.4,967.5 592.3,968.3 592.3,969.2 592.3,970.0 592.3,970.8 592.3,971.7 592.3,972.5 592.3,973.3 592.2,974.2 592.2,975.0 592.2,975.8 592.2,976.7 592.2,977.5 592.2,978.3 592.2,979.2 592.2,980.0 592.2,980.8 592.2,981.7 592.2,982.5 592.2,983.3 592.3,984.2 592.3,985.0 592.3,985.8 592.3,986.7 592.4,987.5 592.4,988.3 592.5,989.2 592.5,990.0 592.6,990.9 592.7,991.8 592.8,992.6 593.0,993.5 593.2,994.4 593.5,995.2 593.7,996.1 593.9,997.0 594.1,997.9 594.4,998.8 594.7,999.6 595.0,1000.5 595.4,1001.4 595.7,1002.2 596.0,1003.1 596.2,1004.0 596.4,1004.9 596.7,1005.8 596.9,1006.6 597.2,1007.5 597.4,1008.4 597.6,1009.2 597.7,1010.1 597.7,1011.0 597.7,1011.9 597.6,1012.8 597.4,1013.6 597.3,1014.5 597.1,1015.4 596.8,1016.2 596.6,1017.1 596.4,1018.0 596.2,1018.9 595.9,1019.8 595.6,1020.6 595.3,1021.5 594.9,1022.4 594.6,1023.2 594.3,1024.1 594.0,1025.0 593.7,1025.9 593.5,1026.7 593.3,1027.6 593.0,1028.4 592.8,1029.3 592.6,1030.1 592.4,1031.0 592.2,1032.0 592.0,1033.0 591.9,1034.0 591.8,1034.8 591.7,1035.7 591.7,1036.5 591.7,1037.4 591.6,1038.2 591.6,1039.1 591.6,1039.9 591.5,1040.8 591.5,1041.6 591.5,1042.5 591.5,1043.3 591.4,1044.2 591.4,1045.0 591.4,1044.2 591.3,1043.3 591.3,1042.5 591.3,1041.6 591.3,1040.8 591.2,1039.9 591.2,1039.1 591.2,1038.2 591.1,1037.4 591.1,1036.5 591.1,1035.7 591.0,1034.8 590.9,1034.0 590.8,1033.0 590.6,1032.0 590.4,1031.0 590.2,1030.1 590.0,1029.3 589.8,1028.4 589.5,1027.6 589.3,1026.7 589.1,1025.9 588.8,1025.0 588.5,1024.1 588.2,1023.2 587.9,1022.4 587.5,1021.5 587.2,1020.6 586.9,1019.8 586.6,1018.9 586.4,1018.0 586.2,1017.1 586.0,1016.2 585.7,1015.4 585.5,1014.5 585.4,1013.6 585.2,1012.8 585.1,1011.9 585.1,1011.0 585.1,1010.1 585.2,1009.2 585.4,1008.4 585.6,1007.5 585.9,1006.6 586.1,1005.8 586.4,1004.9 586.6,1004.0 586.8,1003.1 587.1,1002.2 587.4,1001.4 587.8,1000.5 588.1,999.6 588.4,998.8 588.7,997.9 588.9,997.0 589.1,996.1 589.3,995.2 589.6,994.4 589.8,993.5 590.0,992.6 590.1,991.8 590.2,990.9 590.3,990.0 590.3,989.2 590.4,988.3 590.4,987.5 590.5,986.7 590.5,985.8 590.5,985.0 590.5,984.2 590.6,983.3 590.6,982.5 590.6,981.7 590.6,980.8 590.6,980.0 590.6,979.2 590.6,978.3 590.6,977.5 590.6,976.7 590.6,975.8 590.6,975.0 590.6,974.2 590.5,973.3 590.5,972.5 590.5,971.7 590.5,970.8 590.5,970.0 590.5,969.2 590.5,968.3 590.4,967.5 590.4,966.7 590.4,965.8 590.4,965.0 590.4,964.2 590.4,963.3 590.4,962.5 590.3,961.7 590.3,960.8 590.3,960.0 590.3,959.2 590.3,958.3 590.3,957.5 590.3,956.7 590.2,955.8 590.2,955.0 590.2,954.2 590.2,953.3 590.2,952.5 590.2,951.7 590.2,950.8 590.2,950.0 590.2,949.2 590.2,948.3 590.2,947.5 590.2,946.7 590.2,945.8 590.2,945.0 590.2,944.2 590.3,943.3 590.3,942.5 590.3,941.7 590.3,940.8 590.3,940.0 590.3,939.2 590.3,938.3 590.4,937.5 590.4,936.7 590.4,935.8 590.4,935.0 590.4,934.2 590.4,933.3 590.5,932.5 590.5,931.7 590.5,930.8 590.5,930.0 590.5,929.2 590.6,928.3 590.6,927.5 590.6,926.7 590.6,925.8 590.7,925.0 590.7,924.2 590.7,923.3 590.7,922.5 590.8,921.7 590.8,920.8 590.8,920.0 590.8,919.2 590.8,918.4 590.8,917.6 590.9,916.8 590.9,916.0 590.9,915.2 590.9,914.4 590.9,913.6 590.9,912.8 591.0,912.0 591.0,911.2 591.0,910.4 591.0,909.6 591.0,908.8 591.0,908.0 591.0,907.2 591.0,906.4 591.1,905.6 591.1,904.8 591.1,904.0 591.1,903.2 591.1,902.4 591.1,901.6 591.1,900.8 591.1,900.0 591.1,899.2 591.1,898.4 591.1,897.6 591.1,896.8 591.1,896.0 591.1,895.2 591.1,894.4 591.1,893.6 591.1,892.8 591.1,892.0 591.1,891.2 591.1,890.4 591.1,889.6 591.1,888.8 591.1,888.0 591.1,887.2 591.1,886.4 591.1,885.6 591.1,884.8 591.1,884.0 591.1,883.2 591.1,882.4 591.1,881.6 591.1,880.8 591.1,880.0 591.1,879.2 591.2,878.4 591.2,877.6 591.2,876.8 591.2,876.0 591.2,875.2 591.2,874.4 591.2,873.6 591.2,872.8 591.2,872.0 591.2,871.2 591.2,870.4 591.2,869.6 591.2,868.8 591.2,868.0 591.2,867.2 591.2,866.4 591.2,865.6 591.2,864.8 591.2,864.0 591.2,863.2 591.2,862.4 591.2,861.6 591.2,860.8 591.2,860.0 591.2,859.2 591.2,858.4 591.2,857.6 591.2,856.8 591.2,855.9 591.3,855.1 591.3,854.3 591.3,853.5 591.3,852.7 591.3,851.9 591.3,851.1 591.3,850.2 591.4,849.4 591.4,848.6 591.4,847.8 Z" fill="#a772c8" stroke="#1c1c1c" stroke-width="0.72" stroke-linejoin="round"/>
<path d="M662.0,812.0 662.0,812.8 662.0,813.6 662.0,814.5 662.0,815.3 662.1,816.1 662.1,816.9 662.1,817.7 662.1,818.5 662.1,819.4 662.1,820.2 662.1,821.0 662.1,821.8 662.1,822.6 662.1,823.5 662.2,824.3 662.2,825.1 662.2,825.9 662.2,826.7 662.2,827.5 662.2,828.4 662.2,829.2 662.2,830.0 662.2,830.8 662.2,831.6 662.2,832.4 662.2,833.2 662.2,834.0 662.2,834.8 662.2,835.6 662.2,836.4 662.2,837.2 662.2,838.0 662.2,838.9 662.2,839.7 662.2,840.5 662.2,841.3 662.2,842.1 662.2,842.9 662.2,843.7 662.2,844.5 662.2,845.3 662.2,846.1 662.2,846.9 662.2,847.7 662.2,848.5 662.2,849.3 662.2,850.1 662.2,850.9 662.2,851.7 662.2,852.5 662.2,853.3 662.2,854.1 662.2,854.9 662.2,855.7 662.2,856.6 662.2,857.4 662.2,858.2 662.2,859.0 662.3,859.8 662.3,860.6 662.3,861.4 662.3,862.2 662.3,863.0 662.3,863.8 662.3,864.6 662.3,865.4 662.3,866.2 662.3,867.0 662.3,867.8 662.3,868.6 662.3,869.4 662.3,870.2 662.3,871.0 662.3,871.8 662.3,872.6 662.3,873.4 662.3,874.3 662.3,875.1 662.3,875.9 662.3,876.7 662.3,877.5 662.3,878.3 662.3,879.1 662.3,879.9 662.3,880.7 662.3,881.5 662.3,882.3 662.3,883.1 662.3,883.9 662.3,884.7 662.3,885.5 662.3,886.3 662.3,887.1 662.3,887.9 662.3,888.7 662.3,889.5 662.3,890.3 662.3,891.1 662.3,892.0 662.3,892.8 662.3,893.6 662.3,894.4 662.3,895.2 662.3,896.0 662.3,896.8 662.3,897.6 662.3,898.4 662.3,899.2 662.3,900.0 662.3,900.8 662.3,901.6 662.3,902.4 662.3,903.3 662.3,904.1 662.3,904.9 662.3,905.7 662.3,906.5 662.3,907.3 662.3,908.1 662.3,909.0 662.3,909.8 662.3,910.6 662.3,911.4 662.3,912.2 662.3,913.0 662.3,913.8 662.3,914.7 662.4,915.5 662.4,916.3 662.4,917.1 662.4,917.9 662.4,918.7 662.4,919.5 662.4,920.3 662.4,921.2 662.4,922.0 662.4,922.8 662.4,923.6 662.4,924.4 662.4,925.2 662.4,926.0 662.4,926.9 662.4,927.7 662.4,928.5 662.4,929.3 662.4,930.1 662.5,930.9 662.5,931.7 662.5,932.6 662.5,933.4 662.5,934.2 662.5,935.0 662.5,935.8 662.5,936.7 662.6,937.5 662.6,938.3 662.7,939.2 662.7,940.0 662.7,940.8 662.8,941.7 662.8,942.5 662.9,943.3 662.9,944.2 662.9,945.0 662.9,945.8 662.9,946.7 662.9,947.5 662.9,948.3 662.9,949.2 663.0,950.0 663.0,950.8 663.0,951.7 663.0,952.5 663.0,953.3 663.0,954.2 663.0,955.0 663.0,955.8 663.0,956.7 663.0,957.5 663.0,958.3 663.0,959.2 663.0,960.0 663.0,960.8 663.0,961.6 663.0,962.4 663.0,963.2 662.9,964.0 662.9,964.8 662.9,965.6 662.9,966.4 662.9,967.2 662.9,968.0 662.8,968.8 662.8,969.6 662.8,970.4 662.8,971.2 662.8,972.0 662.8,972.8 662.8,973.7 662.8,974.5 662.8,975.3 662.8,976.2 662.8,977.0 662.8,977.8 662.8,978.7 662.8,979.5 662.8,980.3 662.8,981.2 662.8,982.0 662.8,982.8 662.8,983.6 662.9,984.5 662.9,985.3 663.0,986.1 663.1,986.9 663.2,987.7 663.3,988.5 663.4,989.4 663.5,990.2 663.6,991.0 663.7,991.8 663.9,992.6 664.0,993.5 664.2,994.3 664.4,995.1 664.6,995.9 664.8,996.7 665.0,997.5 665.2,998.4 665.4,999.2 665.6,1000.0 665.8,1000.8 666.0,1001.7 666.2,1002.5 666.4,1003.4 666.6,1004.2 666.8,1005.1 667.0,1005.9 667.1,1006.8 667.3,1007.6 667.4,1008.5 667.5,1009.3 667.6,1010.2 667.6,1011.0 667.6,1011.8 667.5,1012.6 667.4,1013.5 667.3,1014.3 667.2,1015.1 667.1,1015.9 666.9,1016.7 666.7,1017.5 666.5,1018.4 666.4,1019.2 666.2,1020.0 666.0,1020.9 665.8,1021.8 665.5,1022.6 665.3,1023.5 665.0,1024.4 664.7,1025.2 664.4,1026.1 664.2,1027.0 664.0,1027.8 663.7,1028.7 663.5,1029.5 663.3,1030.3 663.1,1031.2 662.9,1032.0 662.8,1032.8 662.7,1033.6 662.6,1034.4 662.5,1035.2 662.5,1036.0 662.4,1036.8 662.4,1037.7 662.3,1038.5 662.3,1039.4 662.2,1040.2 662.2,1041.1 662.2,1041.9 662.1,1042.8 662.1,1043.6 662.1,1044.5 662.1,1045.3 662.0,1046.2 662.0,1047.0 662.0,1046.2 661.9,1045.3 661.9,1044.5 661.9,1043.6 661.9,1042.8 661.8,1041.9 661.8,1041.1 661.8,1040.2 661.7,1039.4 661.7,1038.5 661.6,1037.7 661.6,1036.8 661.5,1036.0 661.5,1035.2 661.4,1034.4 661.3,1033.6 661.2,1032.8 661.1,1032.0 660.9,1031.2 660.7,1030.3 660.5,1029.5 660.3,1028.7 660.0,1027.8 659.8,1027.0 659.6,1026.1 659.3,1025.2 659.0,1024.4 658.7,1023.5 658.5,1022.6 658.2,1021.8 658.0,1020.9 657.8,1020.0 657.6,1019.2 657.5,1018.4 657.3,1017.5 657.1,1016.7 656.9,1015.9 656.8,1015.1 656.7,1014.3 656.6,1013.5 656.5,1012.6 656.4,1011.8 656.4,1011.0 656.4,1010.2 656.5,1009.3 656.6,1008.5 656.7,1007.6 656.9,1006.8 657.0,1005.9 657.2,1005.1 657.4,1004.2 657.6,1003.4 657.8,1002.5 658.0,1001.7 658.2,1000.8 658.4,1000.0 658.6,999.2 658.8,998.4 659.0,997.5 659.2,996.7 659.4,995.9 659.6,995.1 659.8,994.3 660.0,993.5 660.1,992.6 660.3,991.8 660.4,991.0 660.5,990.2 660.6,989.4 660.7,988.5 660.8,987.7 660.9,986.9 661.0,986.1 661.1,985.3 661.1,984.5 661.2,983.6 661.2,982.8 661.2,982.0 661.2,981.2 661.2,980.3 661.2,979.5 661.2,978.7 661.2,977.8 661.2,977.0 661.2,976.2 661.2,975.3 661.2,974.5 661.2,973.7 661.2,972.8 661.2,972.0 661.2,971.2 661.2,970.4 661.2,969.6 661.2,968.8 661.1,968.0 661.1,967.2 661.1,966.4 661.1,965.6 661.1,964.8 661.1,964.0 661.0,963.2 661.0,962.4 661.0,961.6 661.0,960.8 661.0,960.0 661.0,959.2 661.0,958.3 661.0,957.5 661.0,956.7 661.0,955.8 661.0,955.0 661.0,954.2 661.0,953.3 661.0,952.5 661.0,951.7 661.0,950.8 661.0,950.0 661.1,949.2 661.1,948.3 661.1,947.5 661.1,946.7 661.1,945.8 661.1,945.0 661.1,944.2 661.1,943.3 661.2,942.5 661.2,941.7 661.3,940.8 661.3,940.0 661.3,939.2 661.4,938.3 661.4,937.5 661.5,936.7 661.5,935.8 661.5,935.0 661.5,934.2 661.5,933.4 661.5,932.6 661.5,931.7 661.5,930.9 661.6,930.1 661.6,929.3 661.6,928.5 661.6,927.7 661.6,926.9 661.6,926.0 661.6,925.2 661.6,924.4 661.6,923.6 661.6,922.8 661.6,922.0 661.6,921.2 661.6,920.3 661.6,919.5 661.6,918.7 661.6,917.9 661.6,917.1 661.6,916.3 661.6,915.5 661.7,914.7 661.7,913.8 661.7,913.0 661.7,912.2 661.7,911.4 661.7,910.6 661.7,909.8 661.7,909.0 661.7,908.1 661.7,907.3 661.7,906.5 661.7,905.7 661.7,904.9 661.7,904.1 661.7,903.3 661.7,902.4 661.7,901.6 661.7,900.8 661.7,900.0 661.7,899.2 661.7,898.4 661.7,897.6 661.7,896.8 661.7,896.0 661.7,895.2 661.7,894.4 661.7,893.6 661.7,892.8 661.7,892.0 661.7,891.1 661.7,890.3 661.7,889.5 661.7,888.7 661.7,887.9 661.7,887.1 661.7,886.3 661.7,885.5 661.7,884.7 661.7,883.9 661.7,883.1 661.7,882.3 661.7,881.5 661.7,880.7 661.7,879.9 661.7,879.1 661.7,878.3 661.7,877.5 661.7,876.7 661.7,875.9 661.7,875.1 661.7,874.3 661.7,873.4 661.7,872.6 661.7,871.8 661.7,871.0 661.7,870.2 661.7,869.4 661.7,868.6 661.7,867.8 661.7,867.0 661.7,866.2 661.7,865.4 661.7,864.6 661.7,863.8 661.7,863.0 661.7,862.2 661.7,861.4 661.7,860.6 661.7,859.8 661.8,859.0 661.8,858.2 661.8,857.4 661.8,856.6 661.8,855.7 661.8,854.9 661.8,854.1 661.8,853.3 661.8,852.5 661.8,851.7 661.8,850.9 661.8,850.1 661.8,849.3 661.8,848.5 661.8,847.7 661.8,846.9 661.8,846.1 661.8,845.3 661.8,844.5 661.8,843.7 661.8,842.9 661.8,842.1 661.8,841.3 661.8,840.5 661.8,839.7 661.8,838.9 661.8,838.0 661.8,837.2 661.8,836.4 661.8,835.6 661.8,834.8 661.8,834.0 661.8,833.2 661.8,832.4 661.8,831.6 661.8,830.8 661.8,830.0 661.8,829.2 661.8,828.4 661.8,827.5 661.8,826.7 661.8,825.9 661.8,825.1 661.8,824.3 661.9,823.5 661.9,822.6 661.9,821.8 661.9,821.0 661.9,820.2 661.9,819.4 661.9,818.5 661.9,817.7 661.9,816.9 661.9,816.1 662.0,815.3 662.0,814.5 662.0,813.6 662.0,812.8 Z" fill="#4fc1c3" stroke="#1c1c1c" stroke-width="0.72" stroke-linejoin="round"/>
<path d="M732.7,844.3 732.7,845.1 732.7,846.0 732.7,846.8 732.7,847.6 732.8,848.4 732.8,849.3 732.8,850.1 732.8,850.9 732.8,851.7 732.8,852.6 732.8,853.4 732.8,854.2 732.8,855.0 732.9,855.9 732.9,856.7 732.9,857.5 732.9,858.3 732.9,859.2 732.9,860.0 732.9,860.8 732.9,861.6 732.9,862.4 732.9,863.2 732.9,864.0 732.9,864.8 732.9,865.6 732.9,866.5 732.9,867.3 732.9,868.1 733.0,868.9 733.0,869.7 733.0,870.5 733.0,871.3 733.0,872.1 733.0,872.9 733.0,873.7 733.0,874.5 733.0,875.3 733.0,876.1 733.0,876.9 733.0,877.7 733.0,878.5 733.0,879.4 733.0,880.2 733.0,881.0 733.0,881.8 733.0,882.6 733.0,883.4 733.0,884.2 733.1,885.0 733.1,885.8 733.1,886.7 733.1,887.5 733.1,888.3 733.2,889.2 733.2,890.0 733.2,890.8 733.3,891.7 733.3,892.5 733.3,893.3 733.4,894.2 733.4,895.0 733.4,895.8 733.4,896.7 733.5,897.5 733.5,898.3 733.5,899.2 733.5,900.0 733.6,900.8 733.6,901.7 733.6,902.5 733.6,903.3 733.6,904.2 733.7,905.0 733.7,905.8 733.7,906.7 733.7,907.5 733.7,908.3 733.7,909.2 733.7,910.0 733.7,910.8 733.7,911.6 733.7,912.4 733.7,913.2 733.7,914.0 733.7,914.8 733.7,915.6 733.7,916.4 733.7,917.2 733.7,918.0 733.7,918.8 733.7,919.6 733.7,920.4 733.7,921.2 733.7,922.0 733.7,922.8 733.7,923.6 733.7,924.4 733.7,925.2 733.7,926.0 733.7,926.8 733.7,927.6 733.7,928.4 733.7,929.2 733.7,930.0 733.7,930.8 733.7,931.6 733.7,932.4 733.7,933.2 733.7,934.0 733.7,934.8 733.7,935.6 733.7,936.4 733.7,937.2 733.7,938.0 733.7,938.8 733.7,939.6 733.7,940.4 733.7,941.2 733.7,942.0 733.7,942.8 733.7,943.6 733.7,944.4 733.7,945.2 733.7,946.0 733.7,946.8 733.7,947.6 733.7,948.4 733.7,949.2 733.7,950.0 733.7,950.8 733.7,951.6 733.7,952.4 733.7,953.2 733.7,954.0 733.7,954.8 733.7,955.6 733.7,956.5 733.7,957.3 733.7,958.1 733.7,958.9 733.7,959.7 733.7,960.5 733.7,961.3 733.7,962.1 733.6,962.9 733.6,963.7 733.6,964.5 733.6,965.3 733.6,966.1 733.6,966.9 733.6,967.7 733.6,968.5 733.6,969.4 733.6,970.2 733.6,971.0 733.6,971.8 733.6,972.6 733.6,973.4 733.6,974.2 733.6,975.0 733.6,975.8 733.6,976.7 733.6,977.5 733.6,978.3 733.6,979.2 733.7,980.0 733.7,980.8 733.7,981.7 733.7,982.5 733.8,983.3 733.8,984.2 733.8,985.0 733.9,985.8 733.9,986.7 734.0,987.5 734.0,988.3 734.1,989.2 734.1,990.0 734.2,990.8 734.3,991.7 734.4,992.5 734.5,993.4 734.6,994.2 734.8,995.1 735.0,995.9 735.1,996.8 735.3,997.6 735.5,998.5 735.6,999.3 735.8,1000.2 735.9,1001.0 736.0,1001.8 736.2,1002.7 736.3,1003.5 736.4,1004.3 736.6,1005.2 736.7,1006.0 736.9,1006.8 737.0,1007.7 737.1,1008.5 737.2,1009.3 737.3,1010.2 737.4,1011.0 737.4,1011.8 737.5,1012.7 737.5,1013.5 737.5,1014.4 737.4,1015.2 737.3,1016.0 737.2,1016.9 737.1,1017.8 736.9,1018.6 736.8,1019.5 736.6,1020.3 736.5,1021.1 736.3,1022.0 736.1,1022.9 735.9,1023.8 735.7,1024.6 735.5,1025.5 735.3,1026.4 735.0,1027.2 734.8,1028.1 734.6,1029.0 734.4,1029.8 734.2,1030.7 734.1,1031.5 733.9,1032.3 733.7,1033.2 733.6,1034.0 733.4,1035.0 733.3,1036.0 733.2,1037.0 733.1,1037.8 733.1,1038.7 733.0,1039.5 733.0,1040.3 732.9,1041.1 732.9,1042.0 732.9,1042.8 732.9,1043.6 732.8,1044.4 732.8,1045.3 732.8,1046.1 732.8,1046.9 732.8,1047.7 732.7,1048.6 732.7,1049.4 732.7,1048.6 732.6,1047.7 732.6,1046.9 732.6,1046.1 732.6,1045.3 732.6,1044.4 732.5,1043.6 732.5,1042.8 732.5,1042.0 732.5,1041.1 732.4,1040.3 732.4,1039.5 732.3,1038.7 732.3,1037.8 732.2,1037.0 732.1,1036.0 732.0,1035.0 731.8,1034.0 731.7,1033.2 731.5,1032.3 731.3,1031.5 731.2,1030.7 731.0,1029.8 730.8,1029.0 730.6,1028.1 730.4,1027.2 730.1,1026.4 729.9,1025.5 729.7,1024.6 729.5,1023.8 729.3,1022.9 729.1,1022.0 728.9,1021.1 728.8,1020.3 728.6,1019.5 728.5,1018.6 728.3,1017.8 728.2,1016.9 728.1,1016.0 728.0,1015.2 727.9,1014.4 727.9,1013.5 727.9,1012.7 728.0,1011.8 728.0,1011.0 728.1,1010.2 728.2,1009.3 728.3,1008.5 728.4,1007.7 728.5,1006.8 728.7,1006.0 728.8,1005.2 729.0,1004.3 729.1,1003.5 729.2,1002.7 729.4,1001.8 729.5,1001.0 729.6,1000.2 729.8,999.3 729.9,998.5 730.1,997.6 730.3,996.8 730.4,995.9 730.6,995.1 730.8,994.2 730.9,993.4 731.0,992.5 731.1,991.7 731.2,990.8 731.3,990.0 731.3,989.2 731.4,988.3 731.4,987.5 731.5,986.7 731.5,985.8 731.6,985.0 731.6,984.2 731.6,983.3 731.7,982.5 731.7,981.7 731.7,980.8 731.7,980.0 731.8,979.2 731.8,978.3 731.8,977.5 731.8,976.7 731.8,975.8 731.8,975.0 731.8,974.2 731.8,973.4 731.8,972.6 731.8,971.8 731.8,971.0 731.8,970.2 731.8,969.4 731.8,968.5 731.8,967.7 731.8,966.9 731.8,966.1 731.8,965.3 731.8,964.5 731.8,963.7 731.8,962.9 731.7,962.1 731.7,961.3 731.7,960.5 731.7,959.7 731.7,958.9 731.7,958.1 731.7,957.3 731.7,956.5 731.7,955.6 731.7,954.8 731.7,954.0 731.7,953.2 731.7,952.4 731.7,951.6 731.7,950.8 731.7,950.0 731.7,949.2 731.7,948.4 731.7,947.6 731.7,946.8 731.7,946.0 731.7,945.2 731.7,944.4 731.7,943.6 731.7,942.8 731.7,942.0 731.7,941.2 731.7,940.4 731.7,939.6 731.7,938.8 731.7,938.0 731.7,937.2 731.7,936.4 731.7,935.6 731.7,934.8 731.7,934.0 731.7,933.2 731.7,932.4 731.7,931.6 731.7,930.8 731.7,930.0 731.7,929.2 731.7,928.4 731.7,927.6 731.7,926.8 731.7,926.0 731.7,925.2 731.7,924.4 731.7,923.6 731.7,922.8 731.7,922.0 731.7,921.2 731.7,920.4 731.7,919.6 731.7,918.8 731.7,918.0 731.7,917.2 731.7,916.4 731.7,915.6 731.7,914.8 731.7,914.0 731.7,913.2 731.7,912.4 731.7,911.6 731.7,910.8 731.7,910.0 731.7,909.2 731.7,908.3 731.7,907.5 731.7,906.7 731.7,905.8 731.7,905.0 731.8,904.2 731.8,903.3 731.8,902.5 731.8,901.7 731.8,900.8 731.9,900.0 731.9,899.2 731.9,898.3 731.9,897.5 732.0,896.7 732.0,895.8 732.0,895.0 732.0,894.2 732.1,893.3 732.1,892.5 732.1,891.7 732.2,890.8 732.2,890.0 732.2,889.2 732.3,888.3 732.3,887.5 732.3,886.7 732.3,885.8 732.4,885.0 732.4,884.2 732.4,883.4 732.4,882.6 732.4,881.8 732.4,881.0 732.4,880.2 732.4,879.4 732.4,878.5 732.4,877.7 732.4,876.9 732.4,876.1 732.4,875.3 732.4,874.5 732.4,873.7 732.4,872.9 732.4,872.1 732.4,871.3 732.4,870.5 732.4,869.7 732.4,868.9 732.5,868.1 732.5,867.3 732.5,866.5 732.5,865.6 732.5,864.8 732.5,864.0 732.5,863.2 732.5,862.4 732.5,861.6 732.5,860.8 732.5,860.0 732.5,859.2 732.5,858.3 732.5,857.5 732.5,856.7 732.5,855.9 732.6,855.0 732.6,854.2 732.6,853.4 732.6,852.6 732.6,851.7 732.6,850.9 732.6,850.1 732.6,849.3 732.6,848.4 732.7,847.6 732.7,846.8 732.7,846.0 732.7,845.1 Z" fill="#7aab2c" stroke="#1c1c1c" stroke-width="0.72" stroke-linejoin="round"/>
<line x1="520.5" y1="1003" x2="520.5" y2="1021.5" stroke="#3a1a1a" stroke-width="0.8"/>
<line x1="591.4" y1="1000" x2="591.4" y2="1022" stroke="#3a2a44" stroke-width="0.6" opacity="0.8"/>
<line x1="662.0" y1="1000" x2="662.0" y2="1022" stroke="#1a3a3a" stroke-width="0.6" opacity="0.8"/>
<line x1="732.7" y1="1002" x2="732.7" y2="1024" stroke="#2a3a1a" stroke-width="0.6" opacity="0.8"/>
</svg>
</body></html>
